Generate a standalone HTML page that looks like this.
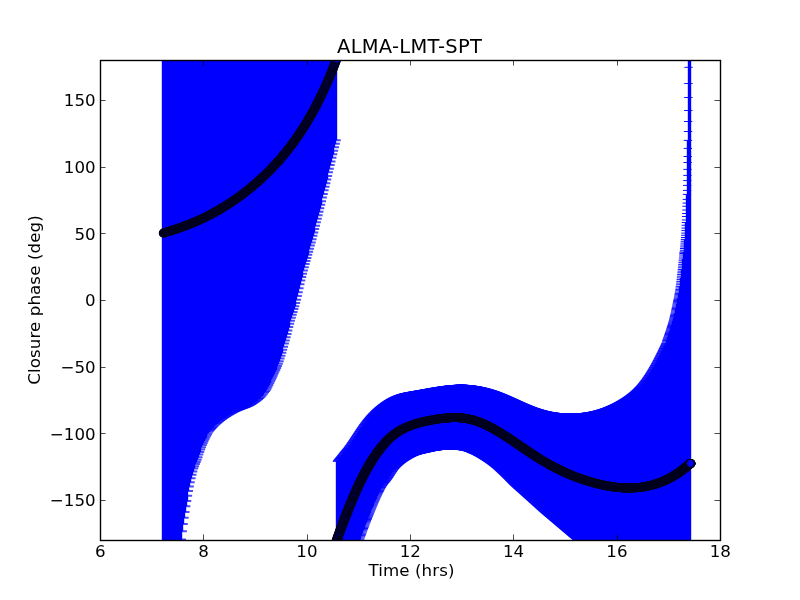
<!DOCTYPE html>
<html><head><meta charset="utf-8"><title>ALMA-LMT-SPT</title>
<style>html,body{margin:0;padding:0;background:#fff}svg{display:block}text{font-family:"DejaVu Sans","Liberation Sans",sans-serif;fill:#000}</style>
</head><body>
<svg width="800" height="600" viewBox="0 0 800 600">
<rect width="800" height="600" fill="#fff"/>
<defs><clipPath id="ax"><rect x="100" y="60" width="620" height="480"/></clipPath></defs>
<g clip-path="url(#ax)">
<path d="M162.5 55V545M163.5 55V545M164.5 55V545M165.5 55V545M166.5 55V545M167.5 55V545M168.5 55V545M168.5 55V545M169.5 55V545M170.5 55V545M171.5 55V545M172.5 55V545M173.5 55V545M174.5 55V545M174.5 55V545M175.5 55V545M176.5 55V545M177.5 55V545M178.5 55V545M179.5 55V545M180.5 55V545M181.5 55V545M181.5 55V539.41M182.5 55V531.23M183.5 55V524.11M184.5 55V517.76M185.5 55V511.89M186.5 55V506.26M187.5 55V500.91M187.5 55V495.85M188.5 55V491.07M189.5 55V486.56M190.5 55V482.33M191.5 55V478.37M192.5 55V474.68M193.5 55V471.39M194.5 55V468.6M194.5 55V466.24M195.5 55V464.1M196.5 55V462.02M197.5 55V459.8M198.5 55V457.29M199.5 55V454.58M200.5 55V451.99M200.5 55V449.62M201.5 55V447.31M202.5 55V445.09M203.5 55V442.98M204.5 55V441.02M205.5 55V439.2M206.5 55V437.47M206.5 55V435.83M207.5 55V434.31M208.5 55V432.93M209.5 55V431.73M210.5 55V430.62M211.5 55V429.56M212.5 55V428.55M213.5 55V427.59M213.5 55V426.67M214.5 55V425.8M215.5 55V424.96M216.5 55V424.16M217.5 55V423.38M218.5 55V422.64M219.5 55V421.92M219.5 55V421.23M220.5 55V420.55M221.5 55V419.89M222.5 55V419.25M223.5 55V418.62M224.5 55V418.01M225.5 55V417.42M225.5 55V416.85M226.5 55V416.29M227.5 55V415.75M228.5 55V415.22M229.5 55V414.7M230.5 55V414.2M231.5 55V413.71M232.5 55V413.23M232.5 55V412.77M233.5 55V412.31M234.5 55V411.87M235.5 55V411.44M236.5 55V411.03M237.5 55V410.64M238.5 55V410.27M238.5 55V409.92M239.5 55V409.59M240.5 55V409.26M241.5 55V408.94M242.5 55V408.63M243.5 55V408.31M244.5 55V407.99M244.5 55V407.66M245.5 55V407.32M246.5 55V406.97M247.5 55V406.6M248.5 55V406.2M249.5 55V405.78M250.5 55V405.33M251.5 55V404.85M251.5 55V404.34M252.5 55V403.79M253.5 55V403.22M254.5 55V402.63M255.5 55V402.01M256.5 55V401.37M257.5 55V400.71M257.5 55V400.03M258.5 55V399.31M259.5 55V398.55M260.5 55V397.73M261.5 55V396.85M262.5 55V395.91M263.5 55V394.91M263.5 55V393.83M264.5 55V392.66M265.5 55V391.4M266.5 55V389.98M267.5 55V388.41M268.5 55V386.71M269.5 55V384.93M270.5 55V383.12M270.5 55V381.31M271.5 55V379.5M272.5 55V377.64M273.5 55V375.74M274.5 55V373.81M275.5 55V371.86M276.5 55V369.92M276.5 55V368.04M277.5 55V366.09M278.5 55V363.85M279.5 55V361.34M280.5 55V358.61M281.5 55V355.73M282.5 55V352.74M282.5 55V349.7M283.5 55V346.66M284.5 55V343.62M285.5 55V340.48M286.5 55V337.26M287.5 55V333.98M288.5 55V330.56M289.5 55V327.1M289.5 55V323.78M290.5 55V320.67M291.5 55V317.71M292.5 55V314.82M293.5 55V311.97M294.5 55V309.09M295.5 55V306.13M295.5 55V303.03M296.5 55V299.72M297.5 55V296.09M298.5 55V292.19M299.5 55V288.17M300.5 55V284.21M301.5 55V280.45M302.5 55V276.99M302.5 55V273.68M303.5 55V270.44M304.5 55V267.23M305.5 55V264.09M306.5 55V260.99M307.5 55V257.92M308.5 55V254.87M308.5 55V251.81M309.5 55V248.72M310.5 55V245.6M311.5 55V242.41M312.5 55V239.16M313.5 55V235.85M314.5 55V232.5M314.5 55V229.12M315.5 55V225.71M316.5 55V222.27M317.5 55V218.8M318.5 55V215.31M319.5 55V211.79M320.5 55V208.26M321.5 55V204.7M321.5 55V201.14M322.5 55V197.55M323.5 55V193.96M324.5 55V190.35M325.5 55V186.74M326.5 55V183.13M327.5 55V179.51M327.5 55V175.89M328.5 55V172.27M329.5 55V168.66M330.5 55V165.05M331.5 55V161.45M332.5 55V157.86M333.5 55V154.29M333.5 55V150.73M334.5 55V147.18M335.5 55V143.66M336.5 55V140.15M336.5 461.28V545M337.5 460.73V545M337.5 460.18V545M338.5 459.63V545M338.5 459.09V545M339.5 458.56V545M339.5 458.02V545M339.5 457.49V545M340.5 456.96V545M340.5 456.43V545M341.5 455.9V545M341.5 455.37V545M342.5 454.84V545M342.5 454.3V545M342.5 453.76V545M343.5 453.07V545M343.5 452.6V545M344.5 452.13V545M344.5 451.64V545M345.5 451.14V545M345.5 450.62V545M345.5 450.1V545M346.5 449.57V545M346.5 449.02V545M347.5 448.47V545M347.5 447.9V545M348.5 447.33V545M348.5 446.75V545M348.5 446.17V545M349.5 445.57V545M349.5 444.97V545M350.5 444.36V545M350.5 443.74V545M351.5 443.12V545M351.5 442.5V545M351.5 441.86V545M352.5 441.23V545M352.5 440.59V545M353.5 439.95V545M353.5 439.3V545M354.5 438.65V545M354.5 438V545M354.5 437.35V545M355.5 436.69V545M355.5 436.04V545M356.5 435.38V545M356.5 434.72V545M357.5 434.07V545M357.5 433.41V545M357.5 432.76V545M358.5 432.11V544.2M358.5 431.46V542.93M359.5 430.81V541.67M359.5 430.16V540.43M360.5 429.52V539.21M360.5 428.88V537.99M360.5 428.25V536.78M361.5 427.62V535.58M361.5 427V534.38M362.5 426.38V533.19M362.5 425.76V532M363.5 425.16V530.83M363.5 424.56V529.66M364.5 423.97V528.49M364.5 423.38V527.34M364.5 422.8V526.19M365.5 422.24V525.06M365.5 421.67V523.93M366.5 421.12V522.81M366.5 420.57V521.7M367.5 420.03V520.6M367.5 419.5V519.51M367.5 418.98V518.44M368.5 418.46V517.37M368.5 417.95V516.31M369.5 417.44V515.27M369.5 416.94V514.23M370.5 416.45V513.19M370.5 415.97V512.14M370.5 415.49V511.1M371.5 415.02V510.05M371.5 414.55V509.01M372.5 414.1V507.96M372.5 413.64V506.92M373.5 413.2V505.89M373.5 412.76V504.86M373.5 412.32V503.83M374.5 411.89V502.81M374.5 411.47V501.8M375.5 411.05V500.8M375.5 410.64V499.81M376.5 410.23V498.83M376.5 409.83V497.86M376.5 409.44V496.9M377.5 409.05V495.96M377.5 408.66V495.03M378.5 408.28V494.12M378.5 407.91V493.23M379.5 407.54V492.35M379.5 407.17V491.49M379.5 406.81V490.65M380.5 406.45V489.83M380.5 406.1V489.04M381.5 405.75V488.26M381.5 405.41V487.51M382.5 405.07V486.78M382.5 404.74V486.08M382.5 404.41V485.42M383.5 404.09V484.78M383.5 403.77V484.18M384.5 403.46V483.6M384.5 403.15V483.05M385.5 402.84V482.51M385.5 402.54V481.97M385.5 402.25V481.45M386.5 401.96V480.92M386.5 401.67V480.38M387.5 401.39V479.83M387.5 401.11V479.26M388.5 400.84V478.67M388.5 400.57V478.05M388.5 400.31V477.42M389.5 400.05V476.77M389.5 399.8V476.11M390.5 399.55V475.44M390.5 399.3V474.77M391.5 399.06V474.09M391.5 398.83V473.41M391.5 398.6V472.74M392.5 398.37V472.08M392.5 398.15V471.43M393.5 397.93V470.8M393.5 397.72V470.19M394.5 397.51V469.59M394.5 397.3V469.03M394.5 397.1V468.49M395.5 396.91V467.99M395.5 396.72V467.52M396.5 396.53V467.08M396.5 396.35V466.65M397.5 396.17V466.22M397.5 396V465.81M397.5 395.83V465.41M398.5 395.67V465.02M398.5 395.51V464.64M399.5 395.36V464.27M399.5 395.21V463.9M400.5 395.06V463.54M400.5 394.92V463.2M400.5 394.78V462.86M401.5 394.65V462.53M401.5 394.52V462.2M402.5 394.39V461.88M402.5 394.27V461.57M403.5 394.15V461.27M403.5 394.03V460.97M404.5 393.92V460.68M404.5 393.81V460.4M404.5 393.7V460.12M405.5 393.59V459.85M405.5 393.49V459.58M406.5 393.39V459.31M406.5 393.3V459.05M407.5 393.2V458.79M407.5 393.11V458.54M407.5 393.02V458.28M408.5 392.93V458.03M408.5 392.85V457.79M409.5 392.76V457.55M409.5 392.68V457.31M410.5 392.6V457.08M410.5 392.52V456.85M410.5 392.44V456.63M411.5 392.36V456.41M411.5 392.28V456.2M412.5 392.21V455.99M412.5 392.13V455.79M413.5 392.06V455.6M413.5 391.99V455.41M413.5 391.91V455.23M414.5 391.84V455.06M414.5 391.77V454.89M415.5 391.69V454.73M415.5 391.62V454.58M416.5 391.55V454.43M416.5 391.47V454.3M416.5 391.4V454.16M417.5 391.32V454.03M417.5 391.25V453.91M418.5 391.17V453.79M418.5 391.1V453.67M419.5 391.02V453.55M419.5 390.95V453.44M419.5 390.87V453.34M420.5 390.79V453.23M420.5 390.72V453.13M421.5 390.64V453.03M421.5 390.56V452.93M422.5 390.49V452.83M422.5 390.41V452.73M422.5 390.33V452.64M423.5 390.25V452.54M423.5 390.18V452.45M424.5 390.1V452.36M424.5 390.02V452.26M425.5 389.94V452.17M425.5 389.87V452.07M425.5 389.79V451.98M426.5 389.71V451.88M426.5 389.63V451.79M427.5 389.56V451.69M427.5 389.48V451.59M428.5 389.4V451.5M428.5 389.32V451.4M428.5 389.25V451.3M429.5 389.17V451.21M429.5 389.09V451.11M430.5 389.02V451.02M430.5 388.94V450.93M431.5 388.87V450.84M431.5 388.79V450.75M431.5 388.71V450.66M432.5 388.64V450.57M432.5 388.56V450.49M433.5 388.49V450.41M433.5 388.42V450.34M434.5 388.34V450.26M434.5 388.27V450.19M434.5 388.2V450.12M435.5 388.12V450.06M435.5 388.05V450M436.5 387.98V449.94M436.5 387.91V449.88M437.5 387.84V449.83M437.5 387.77V449.77M437.5 387.7V449.71M438.5 387.63V449.65M438.5 387.56V449.59M439.5 387.49V449.53M439.5 387.42V449.47M440.5 387.36V449.42M440.5 387.29V449.37M440.5 387.22V449.32M441.5 387.16V449.27M441.5 387.09V449.22M442.5 387.03V449.18M442.5 386.97V449.14M443.5 386.91V449.11M443.5 386.84V449.08M444.5 386.78V449.05M444.5 386.72V449.03M444.5 386.66V449.02M445.5 386.61V449M445.5 386.55V449M446.5 386.49V449M446.5 386.44V449M447.5 386.38V449M447.5 386.33V449M447.5 386.27V449M448.5 386.22V449M448.5 386.17V449M449.5 386.12V449M449.5 386.07V449M450.5 386.02V449M450.5 385.98V449M450.5 385.93V449M451.5 385.89V449M451.5 385.84V449M452.5 385.8V449M452.5 385.76V449M453.5 385.72V449M453.5 385.68V449M453.5 385.64V449M454.5 385.6V449M454.5 385.57V449.01M455.5 385.53V449.02M455.5 385.5V449.03M456.5 385.47V449.05M456.5 385.44V449.07M456.5 385.41V449.1M457.5 385.38V449.13M457.5 385.35V449.17M458.5 385.33V449.21M458.5 385.3V449.25M459.5 385.28V449.3M459.5 385.26V449.34M459.5 385.24V449.4M460.5 385.22V449.45M460.5 385.2V449.51M461.5 385.2V449.56M461.5 385.22V449.62M462.5 385.24V449.69M462.5 385.26V449.75M462.5 385.28V449.81M463.5 385.31V449.88M463.5 385.33V449.95M464.5 385.36V450.01M464.5 385.39V450.09M465.5 385.42V450.17M465.5 385.45V450.27M465.5 385.49V450.37M466.5 385.52V450.49M466.5 385.56V450.61M467.5 385.6V450.74M467.5 385.64V450.88M468.5 385.69V451.03M468.5 385.73V451.18M468.5 385.78V451.34M469.5 385.82V451.5M469.5 385.87V451.67M470.5 385.93V451.84M470.5 385.98V452.02M471.5 386.03V452.2M471.5 386.09V452.38M471.5 386.15V452.56M472.5 386.21V452.75M472.5 386.27V452.93M473.5 386.33V453.12M473.5 386.4V453.3M474.5 386.47V453.49M474.5 386.53V453.67M474.5 386.6V453.87M475.5 386.68V454.07M475.5 386.75V454.27M476.5 386.83V454.48M476.5 386.9V454.7M477.5 386.98V454.92M477.5 387.06V455.15M477.5 387.15V455.38M478.5 387.23V455.61M478.5 387.31V455.85M479.5 387.4V456.09M479.5 387.49V456.34M480.5 387.58V456.58M480.5 387.68V456.84M481.5 387.77V457.09M481.5 387.87V457.35M481.5 387.96V457.6M482.5 388.06V457.86M482.5 388.17V458.13M483.5 388.27V458.39M483.5 388.37V458.65M484.5 388.48V458.92M484.5 388.59V459.18M484.5 388.7V459.45M485.5 388.81V459.72M485.5 388.93V460M486.5 389.04V460.28M486.5 389.16V460.56M487.5 389.28V460.84M487.5 389.4V461.13M487.5 389.52V461.42M488.5 389.65V461.71M488.5 389.77V462.01M489.5 389.9V462.31M489.5 390.03V462.61M490.5 390.16V462.91M490.5 390.29V463.22M490.5 390.43V463.53M491.5 390.56V463.85M491.5 390.7V464.17M492.5 390.84V464.49M492.5 390.99V464.82M493.5 391.13V465.14M493.5 391.28V465.48M493.5 391.42V465.81M494.5 391.57V466.15M494.5 391.72V466.49M495.5 391.88V466.85M495.5 392.03V467.2M496.5 392.19V467.56M496.5 392.34V467.93M496.5 392.5V468.3M497.5 392.67V468.68M497.5 392.83V469.06M498.5 392.99V469.45M498.5 393.16V469.84M499.5 393.33V470.23M499.5 393.5V470.62M499.5 393.67V471.02M500.5 393.84V471.42M500.5 394.01V471.82M501.5 394.19V472.23M501.5 394.37V472.63M502.5 394.54V473.04M502.5 394.72V473.45M502.5 394.9V473.86M503.5 395.08V474.26M503.5 395.26V474.67M504.5 395.45V475.08M504.5 395.63V475.49M505.5 395.82V475.91M505.5 396V476.33M505.5 396.19V476.75M506.5 396.38V477.18M506.5 396.56V477.62M507.5 396.75V478.05M507.5 396.94V478.49M508.5 397.13V478.93M508.5 397.32V479.37M508.5 397.52V479.81M509.5 397.71V480.25M509.5 397.9V480.69M510.5 398.09V481.13M510.5 398.29V481.57M511.5 398.48V482.01M511.5 398.68V482.44M511.5 398.87V482.88M512.5 399.06V483.31M512.5 399.26V483.73M513.5 399.45V484.15M513.5 399.65V484.57M514.5 399.85V484.98M514.5 400.04V485.38M514.5 400.24V485.79M515.5 400.43V486.19M515.5 400.63V486.58M516.5 400.82V486.98M516.5 401.02V487.37M517.5 401.21V487.76M517.5 401.41V488.15M517.5 401.6V488.53M518.5 401.79V488.92M518.5 401.99V489.3M519.5 402.18V489.68M519.5 402.37V490.06M520.5 402.56V490.45M520.5 402.76V490.83M521.5 402.95V491.21M521.5 403.14V491.59M521.5 403.33V491.97M522.5 403.52V492.35M522.5 403.7V492.73M523.5 403.89V493.11M523.5 404.08V493.5M524.5 404.26V493.88M524.5 404.45V494.27M524.5 404.63V494.66M525.5 404.82V495.05M525.5 405V495.43M526.5 405.18V495.82M526.5 405.36V496.21M527.5 405.54V496.59M527.5 405.71V496.98M527.5 405.89V497.37M528.5 406.06V497.76M528.5 406.24V498.14M529.5 406.41V498.53M529.5 406.58V498.92M530.5 406.75V499.3M530.5 406.92V499.69M530.5 407.08V500.08M531.5 407.25V500.47M531.5 407.41V500.85M532.5 407.57V501.24M532.5 407.73V501.63M533.5 407.89V502.01M533.5 408.05V502.4M533.5 408.2V502.79M534.5 408.35V503.18M534.5 408.51V503.56M535.5 408.65V503.95M535.5 408.8V504.34M536.5 408.95V504.73M536.5 409.09V505.12M536.5 409.23V505.51M537.5 409.37V505.9M537.5 409.5V506.29M538.5 409.64V506.69M538.5 409.77V507.08M539.5 409.9V507.47M539.5 410.03V507.86M539.5 410.16V508.24M540.5 410.28V508.63M540.5 410.4V509.02M541.5 410.52V509.41M541.5 410.64V509.79M542.5 410.76V510.18M542.5 410.87V510.56M542.5 410.98V510.94M543.5 411.09V511.32M543.5 411.2V511.7M544.5 411.31V512.08M544.5 411.41V512.45M545.5 411.51V512.83M545.5 411.61V513.2M545.5 411.71V513.57M546.5 411.81V513.94M546.5 411.9V514.3M547.5 411.99V514.67M547.5 412.08V515.04M548.5 412.17V515.4M548.5 412.25V515.77M548.5 412.34V516.13M549.5 412.42V516.49M549.5 412.5V516.85M550.5 412.58V517.22M550.5 412.65V517.58M551.5 412.72V517.94M551.5 412.8V518.3M551.5 412.86V518.67M552.5 412.93V519.03M552.5 413V519.39M553.5 413.06V519.76M553.5 413.12V520.12M554.5 413.18V520.49M554.5 413.24V520.85M554.5 413.29V521.22M555.5 413.34V521.58M555.5 413.39V521.95M556.5 413.44V522.31M556.5 413.49V522.68M557.5 413.53V523.05M557.5 413.58V523.41M558.5 413.62V523.78M558.5 413.66V524.14M558.5 413.69V524.51M559.5 413.73V524.88M559.5 413.76V525.24M560.5 413.79V525.61M560.5 413.82V525.97M561.5 413.84V526.34M561.5 413.87V526.7M561.5 413.89V527.07M562.5 413.91V527.43M562.5 413.93V527.8M563.5 413.94V528.16M563.5 413.96V528.53M564.5 413.97V528.9M564.5 413.98V529.26M564.5 413.99V529.62M565.5 413.99V529.99M565.5 414V530.35M566.5 414V530.72M566.5 414V531.08M567.5 414V531.45M567.5 414V531.81M567.5 414V532.18M568.5 414V532.54M568.5 414V532.91M569.5 414V533.27M569.5 414V533.64M570.5 414V534M570.5 414V534.37M570.5 414V534.73M571.5 414V535.1M571.5 414V535.46M572.5 414V535.83M572.5 414V536.19M573.5 414V536.55M573.5 414V536.92M573.5 414V537.28M574.5 414V537.64M574.5 414V538.01M575.5 414V538.37M575.5 413.99V538.73M576.5 413.99V539.09M576.5 413.98V539.45M576.5 413.97V539.82M577.5 413.96V540.18M577.5 413.94V540.54M578.5 413.93V540.9M578.5 413.91V541.26M579.5 413.89V541.62M579.5 413.87V541.98M579.5 413.84V542.34M580.5 413.82V542.7M580.5 413.79V543.06M581.5 413.76V543.42M581.5 413.72V543.78M582.5 413.69V544.14M582.5 413.65V544.5M582.5 413.61V544.85M583.5 413.57V545M583.5 413.53V545M584.5 413.49V545M584.5 413.44V545M585.5 413.39V545M585.5 413.34V545M585.5 413.29V545M586.5 413.23V545M586.5 413.17V545M587.5 413.11V545M587.5 413.05V545M588.5 412.99V545M588.5 412.92V545M588.5 412.86V545M589.5 412.79V545M589.5 412.71V545M590.5 412.64V545M590.5 412.56V545M591.5 412.48V545M591.5 412.4V545M591.5 412.32V545M592.5 412.24V545M592.5 412.15V545M593.5 412.06V545M593.5 411.97V545M594.5 411.87V545M594.5 411.78V545M594.5 411.68V545M595.5 411.58V545M595.5 411.48V545M596.5 411.37V545M596.5 411.26V545M597.5 411.16V545M597.5 411.04V545M598.5 410.93V545M598.5 410.81V545M598.5 410.69V545M599.5 410.57V545M599.5 410.45V545M600.5 410.32V545M600.5 410.2V545M601.5 410.07V545M601.5 409.93V545M601.5 409.8V545M602.5 409.66V545M602.5 409.52V545M603.5 409.38V545M603.5 409.24V545M604.5 409.09V545M604.5 408.94V545M604.5 408.79V545M605.5 408.64V545M605.5 408.48V545M606.5 408.32V545M606.5 408.16V545M607.5 408V545M607.5 407.83V545M607.5 407.66V545M608.5 407.49V545M608.5 407.32V545M609.5 407.14V545M609.5 406.96V545M610.5 406.78V545M610.5 406.6V545M610.5 406.41V545M611.5 406.22V545M611.5 406.03V545M612.5 405.84V545M612.5 405.64V545M613.5 405.45V545M613.5 405.25V545M613.5 405.04V545M614.5 404.84V545M614.5 404.63V545M615.5 404.42V545M615.5 404.2V545M616.5 403.99V545M616.5 403.77V545M616.5 403.55V545M617.5 403.32V545M617.5 403.09V545M618.5 402.87V545M618.5 402.63V545M619.5 402.4V545M619.5 402.16V545M619.5 401.92V545M620.5 401.68V545M620.5 401.43V545M621.5 401.19V545M621.5 400.93V545M622.5 400.68V545M622.5 400.43V545M622.5 400.17V545M623.5 399.9V545M623.5 399.64V545M624.5 399.37V545M624.5 399.1V545M625.5 398.83V545M625.5 398.56V545M625.5 398.28V545M626.5 397.99V545M626.5 397.71V545M627.5 397.42V545M627.5 397.13V545M628.5 396.83V545M628.5 396.53V545M628.5 396.22V545M629.5 395.91V545M629.5 395.6V545M630.5 395.28V545M630.5 394.95V545M631.5 394.62V545M631.5 394.29V545M631.5 393.95V545M632.5 393.6V545M632.5 393.25V545M633.5 392.89V545M633.5 392.53V545M634.5 392.16V545M634.5 391.78V545M635.5 391.4V545M635.5 391.01V545M635.5 390.62V545M636.5 390.21V545M636.5 389.8V545M637.5 389.39V545M637.5 388.96V545M638.5 388.53V545M638.5 388.09V545M638.5 387.64V545M639.5 387.19V545M639.5 386.72V545M640.5 386.25V545M640.5 385.77V545M641.5 385.28V545M641.5 384.78V545M641.5 384.28V545M642.5 383.76V545M642.5 383.24V545M643.5 382.7V545M643.5 382.16V545M644.5 381.6V545M644.5 381.04V545M644.5 380.47V545M645.5 379.88V545M645.5 379.29V545M646.5 378.69V545M646.5 378.08V545M647.5 377.46V545M647.5 376.83V545M647.5 376.2V545M648.5 375.56V545M648.5 374.92V545M649.5 374.27V545M649.5 373.62V545M649.5 372.96V545M650.5 372.3V545M650.5 371.64V545M651.5 370.97V545M651.5 370.3V545M652.5 369.62V545M652.5 368.94V545M652.5 368.26V545M653.5 367.57V545M653.5 366.88V545M654.5 366.19V545M654.5 365.49V545M654.5 364.8V545M655.5 364.1V545M655.5 363.4V545M655.5 362.7V545M656.5 361.99V545M656.5 361.29V545M657.5 360.58V545M657.5 359.88V545M657.5 359.17V545M658.5 358.46V545M658.5 357.75V545M658.5 357.04V545M659.5 356.33V545M659.5 355.62V545M660.5 354.91V545M660.5 354.2V545M660.5 353.49V545M661.5 352.78V545M661.5 352.07V545M661.5 351.36V545M662.5 350.65V545M662.5 349.95V545M662.5 349.24V545M663.5 348.53V545M663.5 347.83V545M663.5 347.13V545M664.5 346.43V545M664.5 345.73V545M664.5 345.03V545M665.5 344.33V545M665.5 343.64V545M665.5 342.95V545M666.5 341.77V545M666.5 340.61V545M666.5 339.72V545M667.5 338.84V545M667.5 337.95V545M667.5 337.06V545M668.5 336.17V545M668.5 335.29V545M668.5 334.42V545M668.5 333.55V545M669.5 332.68V545M669.5 331.81V545M669.5 330.94V545M670.5 330.06V545M670.5 329.18V545M670.5 328.29V545M670.5 327.4V545M671.5 326.49V545M671.5 325.58V545M671.5 324.65V545M672.5 323.71V545M672.5 322.75V545M672.5 321.79V545M672.5 320.8V545M673.5 319.8V545M673.5 318.77V545M673.5 317.7V545M674.5 316.6V545M674.5 315.48V545M674.5 314.34V545M674.5 313.18V545M675.5 312.01V545M675.5 310.84V545M675.5 309.66V545M675.5 308.48V545M676.5 307.3V545M676.5 306.13V545M676.5 304.97V545M676.5 303.83V545M677.5 302.71V545M677.5 301.59V545M677.5 300.48V545M677.5 299.35V545M677.5 298.22V545M678.5 297.06V545M678.5 295.88V545M678.5 294.67V545M678.5 293.42V545M679.5 292.14V545M679.5 290.81V545M679.5 289.43V545M679.5 287.96V545M679.5 286.39V545M680.5 284.76V545M680.5 283.07V545M680.5 281.35V545M680.5 279.62V545M680.5 277.88V545M681.5 276.16V545M681.5 274.46V545M681.5 272.79V545M681.5 271.13V545M681.5 269.46V545M682.5 267.79V545M682.5 266.1V545M682.5 264.38V545M682.5 262.62V545M682.5 260.81V545M682.5 258.95V545M683.5 257.04V545M683.5 255.05V545M683.5 252.95V545M683.5 253.5V545M683.5 251.9V545M684.5 250.25V545M684.5 248.5V545M684.5 246.9V545M684.5 245V545M684.5 243.1V545M684.5 241.25V545M684.5 239.4V545M685.5 237.5V545M685.5 235.25V545M685.5 233.1V545M685.5 230.6V545M685.5 228.1V545M685.5 225.25V545M685.5 222.5V545M686.5 220V545M686.5 216.5V545M686.5 213.5V545M686.5 210V545M686.5 206.25V545M686.5 203.1V545M686.5 199.4V545M686.5 194.4V545M687.5 190.4V545M687.5 185.4V545M687.5 180.6V545M687.5 175.4V545M687.5 169.4V545M687.5 162.5V545M687.5 156.5V545M687.5 148.4V545M687.5 140.4V545M688.5 131.5V545M688.5 121.5V545M688.5 110.5V545M688.5 97.5V545M688.5 83.5V545M688.5 67.3V545M688.5 55V545M688.5 55V545M688.5 55V545M688.5 55V545M688.5 55V545M689.5 55V545M689.5 55V545M689.5 55V545M689.5 55V545M689.5 55V545M689.5 55V545M689.5 55V545M689.5 55V545M689.5 55V545M689.5 55V545M689.5 55V545M689.5 55V545M689.5 55V545M689.5 55V545M689.5 55V545M689.5 55V545M689.5 55V545M689.5 55V545M689.5 55V545M690.5 55V545M690.5 55V545M690.5 55V545M690.5 55V545M690.5 55V545M690.5 55V545M690.5 55V545M690.5 55V545M690.5 55V545M690.5 55V545M690.5 55V545M690.5 55V545M690.5 55V545M690.5 55V545M690.5 55V545M690.5 55V545M690.5 55V545" stroke="#0000ff" stroke-width="1.39" fill="none"/>
<g fill="#0000ff" stroke="#00001c" stroke-width="1.4"><ellipse cx="163.6" cy="233.15" rx="4.1" ry="3.7"/><ellipse cx="163.6" cy="233.02" rx="4.1" ry="3.7"/><ellipse cx="163.76" cy="232.89" rx="4.1" ry="3.7"/><ellipse cx="164.2" cy="232.77" rx="4.1" ry="3.7"/><ellipse cx="164.63" cy="232.64" rx="4.1" ry="3.7"/><ellipse cx="165.06" cy="232.51" rx="4.1" ry="3.7"/><ellipse cx="165.49" cy="232.38" rx="4.1" ry="3.7"/><ellipse cx="165.92" cy="232.25" rx="4.1" ry="3.7"/><ellipse cx="166.36" cy="232.12" rx="4.1" ry="3.7"/><ellipse cx="166.79" cy="231.99" rx="4.1" ry="3.7"/><ellipse cx="167.22" cy="231.86" rx="4.1" ry="3.7"/><ellipse cx="167.65" cy="231.73" rx="4.1" ry="3.7"/><ellipse cx="168.08" cy="231.6" rx="4.1" ry="3.7"/><ellipse cx="168.52" cy="231.46" rx="4.1" ry="3.7"/><ellipse cx="168.95" cy="231.33" rx="4.1" ry="3.7"/><ellipse cx="169.38" cy="231.2" rx="4.1" ry="3.7"/><ellipse cx="169.81" cy="231.06" rx="4.1" ry="3.7"/><ellipse cx="170.24" cy="230.93" rx="4.1" ry="3.7"/><ellipse cx="170.68" cy="230.79" rx="4.1" ry="3.7"/><ellipse cx="171.11" cy="230.66" rx="4.1" ry="3.7"/><ellipse cx="171.54" cy="230.52" rx="4.1" ry="3.7"/><ellipse cx="171.97" cy="230.38" rx="4.1" ry="3.7"/><ellipse cx="172.4" cy="230.24" rx="4.1" ry="3.7"/><ellipse cx="172.84" cy="230.11" rx="4.1" ry="3.7"/><ellipse cx="173.27" cy="229.97" rx="4.1" ry="3.7"/><ellipse cx="173.7" cy="229.83" rx="4.1" ry="3.7"/><ellipse cx="174.13" cy="229.69" rx="4.1" ry="3.7"/><ellipse cx="174.56" cy="229.54" rx="4.1" ry="3.7"/><ellipse cx="175" cy="229.4" rx="4.1" ry="3.7"/><ellipse cx="175.43" cy="229.26" rx="4.1" ry="3.7"/><ellipse cx="175.86" cy="229.12" rx="4.1" ry="3.7"/><ellipse cx="176.29" cy="228.97" rx="4.1" ry="3.7"/><ellipse cx="176.72" cy="228.83" rx="4.1" ry="3.7"/><ellipse cx="177.16" cy="228.68" rx="4.1" ry="3.7"/><ellipse cx="177.59" cy="228.53" rx="4.1" ry="3.7"/><ellipse cx="178.02" cy="228.39" rx="4.1" ry="3.7"/><ellipse cx="178.45" cy="228.24" rx="4.1" ry="3.7"/><ellipse cx="178.88" cy="228.09" rx="4.1" ry="3.7"/><ellipse cx="179.32" cy="227.94" rx="4.1" ry="3.7"/><ellipse cx="179.75" cy="227.79" rx="4.1" ry="3.7"/><ellipse cx="180.18" cy="227.64" rx="4.1" ry="3.7"/><ellipse cx="180.61" cy="227.48" rx="4.1" ry="3.7"/><ellipse cx="181.04" cy="227.33" rx="4.1" ry="3.7"/><ellipse cx="181.48" cy="227.18" rx="4.1" ry="3.7"/><ellipse cx="181.91" cy="227.02" rx="4.1" ry="3.7"/><ellipse cx="182.34" cy="226.87" rx="4.1" ry="3.7"/><ellipse cx="182.77" cy="226.71" rx="4.1" ry="3.7"/><ellipse cx="183.2" cy="226.55" rx="4.1" ry="3.7"/><ellipse cx="183.64" cy="226.39" rx="4.1" ry="3.7"/><ellipse cx="184.07" cy="226.23" rx="4.1" ry="3.7"/><ellipse cx="184.5" cy="226.07" rx="4.1" ry="3.7"/><ellipse cx="184.93" cy="225.91" rx="4.1" ry="3.7"/><ellipse cx="185.36" cy="225.75" rx="4.1" ry="3.7"/><ellipse cx="185.8" cy="225.59" rx="4.1" ry="3.7"/><ellipse cx="186.23" cy="225.42" rx="4.1" ry="3.7"/><ellipse cx="186.66" cy="225.26" rx="4.1" ry="3.7"/><ellipse cx="187.09" cy="225.09" rx="4.1" ry="3.7"/><ellipse cx="187.52" cy="224.92" rx="4.1" ry="3.7"/><ellipse cx="187.96" cy="224.76" rx="4.1" ry="3.7"/><ellipse cx="188.39" cy="224.59" rx="4.1" ry="3.7"/><ellipse cx="188.82" cy="224.42" rx="4.1" ry="3.7"/><ellipse cx="189.25" cy="224.25" rx="4.1" ry="3.7"/><ellipse cx="189.68" cy="224.07" rx="4.1" ry="3.7"/><ellipse cx="190.12" cy="223.9" rx="4.1" ry="3.7"/><ellipse cx="190.55" cy="223.73" rx="4.1" ry="3.7"/><ellipse cx="190.98" cy="223.55" rx="4.1" ry="3.7"/><ellipse cx="191.41" cy="223.38" rx="4.1" ry="3.7"/><ellipse cx="191.84" cy="223.2" rx="4.1" ry="3.7"/><ellipse cx="192.28" cy="223.02" rx="4.1" ry="3.7"/><ellipse cx="192.71" cy="222.84" rx="4.1" ry="3.7"/><ellipse cx="193.14" cy="222.66" rx="4.1" ry="3.7"/><ellipse cx="193.57" cy="222.48" rx="4.1" ry="3.7"/><ellipse cx="194" cy="222.3" rx="4.1" ry="3.7"/><ellipse cx="194.44" cy="222.11" rx="4.1" ry="3.7"/><ellipse cx="194.87" cy="221.93" rx="4.1" ry="3.7"/><ellipse cx="195.3" cy="221.74" rx="4.1" ry="3.7"/><ellipse cx="195.73" cy="221.56" rx="4.1" ry="3.7"/><ellipse cx="196.16" cy="221.37" rx="4.1" ry="3.7"/><ellipse cx="196.6" cy="221.18" rx="4.1" ry="3.7"/><ellipse cx="197.03" cy="220.99" rx="4.1" ry="3.7"/><ellipse cx="197.46" cy="220.8" rx="4.1" ry="3.7"/><ellipse cx="197.89" cy="220.61" rx="4.1" ry="3.7"/><ellipse cx="198.32" cy="220.42" rx="4.1" ry="3.7"/><ellipse cx="198.76" cy="220.22" rx="4.1" ry="3.7"/><ellipse cx="199.19" cy="220.03" rx="4.1" ry="3.7"/><ellipse cx="199.62" cy="219.83" rx="4.1" ry="3.7"/><ellipse cx="200.05" cy="219.63" rx="4.1" ry="3.7"/><ellipse cx="200.48" cy="219.43" rx="4.1" ry="3.7"/><ellipse cx="200.92" cy="219.23" rx="4.1" ry="3.7"/><ellipse cx="201.35" cy="219.03" rx="4.1" ry="3.7"/><ellipse cx="201.78" cy="218.83" rx="4.1" ry="3.7"/><ellipse cx="202.21" cy="218.63" rx="4.1" ry="3.7"/><ellipse cx="202.64" cy="218.42" rx="4.1" ry="3.7"/><ellipse cx="203.08" cy="218.22" rx="4.1" ry="3.7"/><ellipse cx="203.51" cy="218.01" rx="4.1" ry="3.7"/><ellipse cx="203.94" cy="217.8" rx="4.1" ry="3.7"/><ellipse cx="204.37" cy="217.59" rx="4.1" ry="3.7"/><ellipse cx="204.8" cy="217.38" rx="4.1" ry="3.7"/><ellipse cx="205.24" cy="217.17" rx="4.1" ry="3.7"/><ellipse cx="205.67" cy="216.96" rx="4.1" ry="3.7"/><ellipse cx="206.1" cy="216.74" rx="4.1" ry="3.7"/><ellipse cx="206.53" cy="216.53" rx="4.1" ry="3.7"/><ellipse cx="206.96" cy="216.31" rx="4.1" ry="3.7"/><ellipse cx="207.4" cy="216.1" rx="4.1" ry="3.7"/><ellipse cx="207.83" cy="215.88" rx="4.1" ry="3.7"/><ellipse cx="208.26" cy="215.66" rx="4.1" ry="3.7"/><ellipse cx="208.69" cy="215.44" rx="4.1" ry="3.7"/><ellipse cx="209.12" cy="215.22" rx="4.1" ry="3.7"/><ellipse cx="209.56" cy="214.99" rx="4.1" ry="3.7"/><ellipse cx="209.99" cy="214.77" rx="4.1" ry="3.7"/><ellipse cx="210.42" cy="214.54" rx="4.1" ry="3.7"/><ellipse cx="210.85" cy="214.31" rx="4.1" ry="3.7"/><ellipse cx="211.28" cy="214.09" rx="4.1" ry="3.7"/><ellipse cx="211.72" cy="213.86" rx="4.1" ry="3.7"/><ellipse cx="212.15" cy="213.63" rx="4.1" ry="3.7"/><ellipse cx="212.58" cy="213.4" rx="4.1" ry="3.7"/><ellipse cx="213.01" cy="213.16" rx="4.1" ry="3.7"/><ellipse cx="213.44" cy="212.93" rx="4.1" ry="3.7"/><ellipse cx="213.88" cy="212.69" rx="4.1" ry="3.7"/><ellipse cx="214.31" cy="212.46" rx="4.1" ry="3.7"/><ellipse cx="214.74" cy="212.22" rx="4.1" ry="3.7"/><ellipse cx="215.17" cy="211.98" rx="4.1" ry="3.7"/><ellipse cx="215.6" cy="211.74" rx="4.1" ry="3.7"/><ellipse cx="216.04" cy="211.5" rx="4.1" ry="3.7"/><ellipse cx="216.47" cy="211.25" rx="4.1" ry="3.7"/><ellipse cx="216.9" cy="211.01" rx="4.1" ry="3.7"/><ellipse cx="217.33" cy="210.76" rx="4.1" ry="3.7"/><ellipse cx="217.76" cy="210.52" rx="4.1" ry="3.7"/><ellipse cx="218.2" cy="210.27" rx="4.1" ry="3.7"/><ellipse cx="218.63" cy="210.02" rx="4.1" ry="3.7"/><ellipse cx="219.06" cy="209.77" rx="4.1" ry="3.7"/><ellipse cx="219.49" cy="209.52" rx="4.1" ry="3.7"/><ellipse cx="219.92" cy="209.27" rx="4.1" ry="3.7"/><ellipse cx="220.36" cy="209.01" rx="4.1" ry="3.7"/><ellipse cx="220.79" cy="208.76" rx="4.1" ry="3.7"/><ellipse cx="221.22" cy="208.5" rx="4.1" ry="3.7"/><ellipse cx="221.65" cy="208.24" rx="4.1" ry="3.7"/><ellipse cx="222.08" cy="207.98" rx="4.1" ry="3.7"/><ellipse cx="222.52" cy="207.72" rx="4.1" ry="3.7"/><ellipse cx="222.95" cy="207.46" rx="4.1" ry="3.7"/><ellipse cx="223.38" cy="207.2" rx="4.1" ry="3.7"/><ellipse cx="223.81" cy="206.93" rx="4.1" ry="3.7"/><ellipse cx="224.24" cy="206.67" rx="4.1" ry="3.7"/><ellipse cx="224.68" cy="206.4" rx="4.1" ry="3.7"/><ellipse cx="225.11" cy="206.13" rx="4.1" ry="3.7"/><ellipse cx="225.54" cy="205.86" rx="4.1" ry="3.7"/><ellipse cx="225.97" cy="205.59" rx="4.1" ry="3.7"/><ellipse cx="226.4" cy="205.32" rx="4.1" ry="3.7"/><ellipse cx="226.84" cy="205.04" rx="4.1" ry="3.7"/><ellipse cx="227.27" cy="204.77" rx="4.1" ry="3.7"/><ellipse cx="227.7" cy="204.49" rx="4.1" ry="3.7"/><ellipse cx="228.13" cy="204.21" rx="4.1" ry="3.7"/><ellipse cx="228.56" cy="203.93" rx="4.1" ry="3.7"/><ellipse cx="229" cy="203.65" rx="4.1" ry="3.7"/><ellipse cx="229.43" cy="203.37" rx="4.1" ry="3.7"/><ellipse cx="229.86" cy="203.09" rx="4.1" ry="3.7"/><ellipse cx="230.29" cy="202.8" rx="4.1" ry="3.7"/><ellipse cx="230.72" cy="202.52" rx="4.1" ry="3.7"/><ellipse cx="231.16" cy="202.23" rx="4.1" ry="3.7"/><ellipse cx="231.59" cy="201.94" rx="4.1" ry="3.7"/><ellipse cx="232.02" cy="201.65" rx="4.1" ry="3.7"/><ellipse cx="232.45" cy="201.36" rx="4.1" ry="3.7"/><ellipse cx="232.88" cy="201.07" rx="4.1" ry="3.7"/><ellipse cx="233.32" cy="200.78" rx="4.1" ry="3.7"/><ellipse cx="233.75" cy="200.48" rx="4.1" ry="3.7"/><ellipse cx="234.18" cy="200.18" rx="4.1" ry="3.7"/><ellipse cx="234.61" cy="199.88" rx="4.1" ry="3.7"/><ellipse cx="235.04" cy="199.59" rx="4.1" ry="3.7"/><ellipse cx="235.48" cy="199.28" rx="4.1" ry="3.7"/><ellipse cx="235.91" cy="198.98" rx="4.1" ry="3.7"/><ellipse cx="236.34" cy="198.68" rx="4.1" ry="3.7"/><ellipse cx="236.77" cy="198.37" rx="4.1" ry="3.7"/><ellipse cx="237.2" cy="198.07" rx="4.1" ry="3.7"/><ellipse cx="237.64" cy="197.76" rx="4.1" ry="3.7"/><ellipse cx="238.07" cy="197.45" rx="4.1" ry="3.7"/><ellipse cx="238.5" cy="197.14" rx="4.1" ry="3.7"/><ellipse cx="238.93" cy="196.82" rx="4.1" ry="3.7"/><ellipse cx="239.36" cy="196.51" rx="4.1" ry="3.7"/><ellipse cx="239.8" cy="196.2" rx="4.1" ry="3.7"/><ellipse cx="240.23" cy="195.88" rx="4.1" ry="3.7"/><ellipse cx="240.66" cy="195.56" rx="4.1" ry="3.7"/><ellipse cx="241.09" cy="195.24" rx="4.1" ry="3.7"/><ellipse cx="241.52" cy="194.92" rx="4.1" ry="3.7"/><ellipse cx="241.96" cy="194.6" rx="4.1" ry="3.7"/><ellipse cx="242.39" cy="194.27" rx="4.1" ry="3.7"/><ellipse cx="242.82" cy="193.95" rx="4.1" ry="3.7"/><ellipse cx="243.25" cy="193.62" rx="4.1" ry="3.7"/><ellipse cx="243.68" cy="193.29" rx="4.1" ry="3.7"/><ellipse cx="244.12" cy="192.96" rx="4.1" ry="3.7"/><ellipse cx="244.55" cy="192.63" rx="4.1" ry="3.7"/><ellipse cx="244.98" cy="192.3" rx="4.1" ry="3.7"/><ellipse cx="245.41" cy="191.96" rx="4.1" ry="3.7"/><ellipse cx="245.84" cy="191.62" rx="4.1" ry="3.7"/><ellipse cx="246.28" cy="191.29" rx="4.1" ry="3.7"/><ellipse cx="246.71" cy="190.95" rx="4.1" ry="3.7"/><ellipse cx="247.14" cy="190.61" rx="4.1" ry="3.7"/><ellipse cx="247.57" cy="190.26" rx="4.1" ry="3.7"/><ellipse cx="248" cy="189.92" rx="4.1" ry="3.7"/><ellipse cx="248.44" cy="189.57" rx="4.1" ry="3.7"/><ellipse cx="248.87" cy="189.22" rx="4.1" ry="3.7"/><ellipse cx="249.3" cy="188.88" rx="4.1" ry="3.7"/><ellipse cx="249.73" cy="188.53" rx="4.1" ry="3.7"/><ellipse cx="250.16" cy="188.17" rx="4.1" ry="3.7"/><ellipse cx="250.6" cy="187.82" rx="4.1" ry="3.7"/><ellipse cx="251.03" cy="187.46" rx="4.1" ry="3.7"/><ellipse cx="251.46" cy="187.11" rx="4.1" ry="3.7"/><ellipse cx="251.89" cy="186.75" rx="4.1" ry="3.7"/><ellipse cx="252.32" cy="186.39" rx="4.1" ry="3.7"/><ellipse cx="252.76" cy="186.02" rx="4.1" ry="3.7"/><ellipse cx="253.19" cy="185.66" rx="4.1" ry="3.7"/><ellipse cx="253.62" cy="185.29" rx="4.1" ry="3.7"/><ellipse cx="254.05" cy="184.93" rx="4.1" ry="3.7"/><ellipse cx="254.48" cy="184.56" rx="4.1" ry="3.7"/><ellipse cx="254.92" cy="184.19" rx="4.1" ry="3.7"/><ellipse cx="255.35" cy="183.81" rx="4.1" ry="3.7"/><ellipse cx="255.78" cy="183.44" rx="4.1" ry="3.7"/><ellipse cx="256.21" cy="183.06" rx="4.1" ry="3.7"/><ellipse cx="256.64" cy="182.69" rx="4.1" ry="3.7"/><ellipse cx="257.08" cy="182.31" rx="4.1" ry="3.7"/><ellipse cx="257.51" cy="181.93" rx="4.1" ry="3.7"/><ellipse cx="257.94" cy="181.54" rx="4.1" ry="3.7"/><ellipse cx="258.37" cy="181.16" rx="4.1" ry="3.7"/><ellipse cx="258.8" cy="180.77" rx="4.1" ry="3.7"/><ellipse cx="259.24" cy="180.38" rx="4.1" ry="3.7"/><ellipse cx="259.67" cy="179.99" rx="4.1" ry="3.7"/><ellipse cx="260.1" cy="179.6" rx="4.1" ry="3.7"/><ellipse cx="260.53" cy="179.2" rx="4.1" ry="3.7"/><ellipse cx="260.96" cy="178.81" rx="4.1" ry="3.7"/><ellipse cx="261.4" cy="178.41" rx="4.1" ry="3.7"/><ellipse cx="261.83" cy="178.01" rx="4.1" ry="3.7"/><ellipse cx="262.26" cy="177.61" rx="4.1" ry="3.7"/><ellipse cx="262.69" cy="177.2" rx="4.1" ry="3.7"/><ellipse cx="263.12" cy="176.8" rx="4.1" ry="3.7"/><ellipse cx="263.56" cy="176.39" rx="4.1" ry="3.7"/><ellipse cx="263.99" cy="175.98" rx="4.1" ry="3.7"/><ellipse cx="264.42" cy="175.57" rx="4.1" ry="3.7"/><ellipse cx="264.85" cy="175.16" rx="4.1" ry="3.7"/><ellipse cx="265.28" cy="174.74" rx="4.1" ry="3.7"/><ellipse cx="265.72" cy="174.32" rx="4.1" ry="3.7"/><ellipse cx="266.15" cy="173.9" rx="4.1" ry="3.7"/><ellipse cx="266.58" cy="173.48" rx="4.1" ry="3.7"/><ellipse cx="267.01" cy="173.06" rx="4.1" ry="3.7"/><ellipse cx="267.44" cy="172.63" rx="4.1" ry="3.7"/><ellipse cx="267.88" cy="172.2" rx="4.1" ry="3.7"/><ellipse cx="268.31" cy="171.77" rx="4.1" ry="3.7"/><ellipse cx="268.74" cy="171.34" rx="4.1" ry="3.7"/><ellipse cx="269.17" cy="170.9" rx="4.1" ry="3.7"/><ellipse cx="269.6" cy="170.47" rx="4.1" ry="3.7"/><ellipse cx="270.04" cy="170.03" rx="4.1" ry="3.7"/><ellipse cx="270.47" cy="169.59" rx="4.1" ry="3.7"/><ellipse cx="270.9" cy="169.14" rx="4.1" ry="3.7"/><ellipse cx="271.33" cy="168.7" rx="4.1" ry="3.7"/><ellipse cx="271.76" cy="168.25" rx="4.1" ry="3.7"/><ellipse cx="272.2" cy="167.8" rx="4.1" ry="3.7"/><ellipse cx="272.63" cy="167.35" rx="4.1" ry="3.7"/><ellipse cx="273.06" cy="166.89" rx="4.1" ry="3.7"/><ellipse cx="273.49" cy="166.43" rx="4.1" ry="3.7"/><ellipse cx="273.92" cy="165.97" rx="4.1" ry="3.7"/><ellipse cx="274.36" cy="165.51" rx="4.1" ry="3.7"/><ellipse cx="274.79" cy="165.05" rx="4.1" ry="3.7"/><ellipse cx="275.22" cy="164.58" rx="4.1" ry="3.7"/><ellipse cx="275.65" cy="164.11" rx="4.1" ry="3.7"/><ellipse cx="276.08" cy="163.64" rx="4.1" ry="3.7"/><ellipse cx="276.52" cy="163.17" rx="4.1" ry="3.7"/><ellipse cx="276.95" cy="162.69" rx="4.1" ry="3.7"/><ellipse cx="277.38" cy="162.21" rx="4.1" ry="3.7"/><ellipse cx="277.81" cy="161.73" rx="4.1" ry="3.7"/><ellipse cx="278.24" cy="161.24" rx="4.1" ry="3.7"/><ellipse cx="278.68" cy="160.76" rx="4.1" ry="3.7"/><ellipse cx="279.11" cy="160.27" rx="4.1" ry="3.7"/><ellipse cx="279.54" cy="159.78" rx="4.1" ry="3.7"/><ellipse cx="279.97" cy="159.28" rx="4.1" ry="3.7"/><ellipse cx="280.4" cy="158.78" rx="4.1" ry="3.7"/><ellipse cx="280.84" cy="158.28" rx="4.1" ry="3.7"/><ellipse cx="281.27" cy="157.78" rx="4.1" ry="3.7"/><ellipse cx="281.7" cy="157.28" rx="4.1" ry="3.7"/><ellipse cx="282.13" cy="156.77" rx="4.1" ry="3.7"/><ellipse cx="282.56" cy="156.26" rx="4.1" ry="3.7"/><ellipse cx="283" cy="155.74" rx="4.1" ry="3.7"/><ellipse cx="283.43" cy="155.23" rx="4.1" ry="3.7"/><ellipse cx="283.86" cy="154.71" rx="4.1" ry="3.7"/><ellipse cx="284.29" cy="154.18" rx="4.1" ry="3.7"/><ellipse cx="284.72" cy="153.66" rx="4.1" ry="3.7"/><ellipse cx="285.16" cy="153.13" rx="4.1" ry="3.7"/><ellipse cx="285.59" cy="152.6" rx="4.1" ry="3.7"/><ellipse cx="286.02" cy="152.06" rx="4.1" ry="3.7"/><ellipse cx="286.45" cy="151.53" rx="4.1" ry="3.7"/><ellipse cx="286.88" cy="150.99" rx="4.1" ry="3.7"/><ellipse cx="287.32" cy="150.44" rx="4.1" ry="3.7"/><ellipse cx="287.75" cy="149.9" rx="4.1" ry="3.7"/><ellipse cx="288.18" cy="149.35" rx="4.1" ry="3.7"/><ellipse cx="288.61" cy="148.79" rx="4.1" ry="3.7"/><ellipse cx="289.04" cy="148.24" rx="4.1" ry="3.7"/><ellipse cx="289.48" cy="147.68" rx="4.1" ry="3.7"/><ellipse cx="289.91" cy="147.12" rx="4.1" ry="3.7"/><ellipse cx="290.34" cy="146.55" rx="4.1" ry="3.7"/><ellipse cx="290.77" cy="145.98" rx="4.1" ry="3.7"/><ellipse cx="291.2" cy="145.41" rx="4.1" ry="3.7"/><ellipse cx="291.64" cy="144.84" rx="4.1" ry="3.7"/><ellipse cx="292.07" cy="144.26" rx="4.1" ry="3.7"/><ellipse cx="292.5" cy="143.67" rx="4.1" ry="3.7"/><ellipse cx="292.93" cy="143.09" rx="4.1" ry="3.7"/><ellipse cx="293.36" cy="142.5" rx="4.1" ry="3.7"/><ellipse cx="293.8" cy="141.91" rx="4.1" ry="3.7"/><ellipse cx="294.23" cy="141.31" rx="4.1" ry="3.7"/><ellipse cx="294.66" cy="140.71" rx="4.1" ry="3.7"/><ellipse cx="295.09" cy="140.11" rx="4.1" ry="3.7"/><ellipse cx="295.52" cy="139.5" rx="4.1" ry="3.7"/><ellipse cx="295.96" cy="138.89" rx="4.1" ry="3.7"/><ellipse cx="296.39" cy="138.27" rx="4.1" ry="3.7"/><ellipse cx="296.82" cy="137.66" rx="4.1" ry="3.7"/><ellipse cx="297.25" cy="137.03" rx="4.1" ry="3.7"/><ellipse cx="297.68" cy="136.41" rx="4.1" ry="3.7"/><ellipse cx="298.12" cy="135.78" rx="4.1" ry="3.7"/><ellipse cx="298.55" cy="135.14" rx="4.1" ry="3.7"/><ellipse cx="298.98" cy="134.51" rx="4.1" ry="3.7"/><ellipse cx="299.41" cy="133.87" rx="4.1" ry="3.7"/><ellipse cx="299.84" cy="133.22" rx="4.1" ry="3.7"/><ellipse cx="300.28" cy="132.57" rx="4.1" ry="3.7"/><ellipse cx="300.71" cy="131.92" rx="4.1" ry="3.7"/><ellipse cx="301.14" cy="131.26" rx="4.1" ry="3.7"/><ellipse cx="301.57" cy="130.6" rx="4.1" ry="3.7"/><ellipse cx="302" cy="129.93" rx="4.1" ry="3.7"/><ellipse cx="302.44" cy="129.26" rx="4.1" ry="3.7"/><ellipse cx="302.87" cy="128.59" rx="4.1" ry="3.7"/><ellipse cx="303.3" cy="127.91" rx="4.1" ry="3.7"/><ellipse cx="303.73" cy="127.23" rx="4.1" ry="3.7"/><ellipse cx="304.16" cy="126.54" rx="4.1" ry="3.7"/><ellipse cx="304.6" cy="125.85" rx="4.1" ry="3.7"/><ellipse cx="305.03" cy="125.15" rx="4.1" ry="3.7"/><ellipse cx="305.46" cy="124.45" rx="4.1" ry="3.7"/><ellipse cx="305.89" cy="123.75" rx="4.1" ry="3.7"/><ellipse cx="306.32" cy="123.04" rx="4.1" ry="3.7"/><ellipse cx="306.76" cy="122.32" rx="4.1" ry="3.7"/><ellipse cx="307.19" cy="121.6" rx="4.1" ry="3.7"/><ellipse cx="307.62" cy="120.88" rx="4.1" ry="3.7"/><ellipse cx="308.05" cy="120.15" rx="4.1" ry="3.7"/><ellipse cx="308.48" cy="119.42" rx="4.1" ry="3.7"/><ellipse cx="308.92" cy="118.68" rx="4.1" ry="3.7"/><ellipse cx="309.35" cy="117.94" rx="4.1" ry="3.7"/><ellipse cx="309.78" cy="117.19" rx="4.1" ry="3.7"/><ellipse cx="310.21" cy="116.44" rx="4.1" ry="3.7"/><ellipse cx="310.64" cy="115.68" rx="4.1" ry="3.7"/><ellipse cx="311.08" cy="114.92" rx="4.1" ry="3.7"/><ellipse cx="311.51" cy="114.15" rx="4.1" ry="3.7"/><ellipse cx="311.94" cy="113.38" rx="4.1" ry="3.7"/><ellipse cx="312.37" cy="112.6" rx="4.1" ry="3.7"/><ellipse cx="312.8" cy="111.82" rx="4.1" ry="3.7"/><ellipse cx="313.24" cy="111.03" rx="4.1" ry="3.7"/><ellipse cx="313.67" cy="110.23" rx="4.1" ry="3.7"/><ellipse cx="314.1" cy="109.43" rx="4.1" ry="3.7"/><ellipse cx="314.53" cy="108.63" rx="4.1" ry="3.7"/><ellipse cx="314.96" cy="107.82" rx="4.1" ry="3.7"/><ellipse cx="315.4" cy="107" rx="4.1" ry="3.7"/><ellipse cx="315.83" cy="106.18" rx="4.1" ry="3.7"/><ellipse cx="316.26" cy="105.36" rx="4.1" ry="3.7"/><ellipse cx="316.69" cy="104.52" rx="4.1" ry="3.7"/><ellipse cx="317.12" cy="103.68" rx="4.1" ry="3.7"/><ellipse cx="317.56" cy="102.84" rx="4.1" ry="3.7"/><ellipse cx="317.99" cy="101.99" rx="4.1" ry="3.7"/><ellipse cx="318.42" cy="101.14" rx="4.1" ry="3.7"/><ellipse cx="318.85" cy="100.27" rx="4.1" ry="3.7"/><ellipse cx="319.28" cy="99.41" rx="4.1" ry="3.7"/><ellipse cx="319.72" cy="98.53" rx="4.1" ry="3.7"/><ellipse cx="320.15" cy="97.65" rx="4.1" ry="3.7"/><ellipse cx="320.58" cy="96.77" rx="4.1" ry="3.7"/><ellipse cx="321.01" cy="95.87" rx="4.1" ry="3.7"/><ellipse cx="321.44" cy="94.98" rx="4.1" ry="3.7"/><ellipse cx="321.88" cy="94.07" rx="4.1" ry="3.7"/><ellipse cx="322.31" cy="93.16" rx="4.1" ry="3.7"/><ellipse cx="322.74" cy="92.24" rx="4.1" ry="3.7"/><ellipse cx="323.17" cy="91.32" rx="4.1" ry="3.7"/><ellipse cx="323.6" cy="90.39" rx="4.1" ry="3.7"/><ellipse cx="324.04" cy="89.45" rx="4.1" ry="3.7"/><ellipse cx="324.47" cy="88.51" rx="4.1" ry="3.7"/><ellipse cx="324.9" cy="87.56" rx="4.1" ry="3.7"/><ellipse cx="325.33" cy="86.6" rx="4.1" ry="3.7"/><ellipse cx="325.76" cy="85.64" rx="4.1" ry="3.7"/><ellipse cx="326.2" cy="84.66" rx="4.1" ry="3.7"/><ellipse cx="326.63" cy="83.69" rx="4.1" ry="3.7"/><ellipse cx="327.06" cy="82.7" rx="4.1" ry="3.7"/><ellipse cx="327.49" cy="81.71" rx="4.1" ry="3.7"/><ellipse cx="327.92" cy="80.71" rx="4.1" ry="3.7"/><ellipse cx="328.36" cy="79.7" rx="4.1" ry="3.7"/><ellipse cx="328.79" cy="78.69" rx="4.1" ry="3.7"/><ellipse cx="329.22" cy="77.67" rx="4.1" ry="3.7"/><ellipse cx="329.65" cy="76.64" rx="4.1" ry="3.7"/><ellipse cx="330.08" cy="75.61" rx="4.1" ry="3.7"/><ellipse cx="330.52" cy="74.56" rx="4.1" ry="3.7"/><ellipse cx="330.95" cy="73.51" rx="4.1" ry="3.7"/><ellipse cx="331.38" cy="72.45" rx="4.1" ry="3.7"/><ellipse cx="331.81" cy="71.39" rx="4.1" ry="3.7"/><ellipse cx="332.24" cy="70.31" rx="4.1" ry="3.7"/><ellipse cx="332.68" cy="69.23" rx="4.1" ry="3.7"/><ellipse cx="333.11" cy="68.14" rx="4.1" ry="3.7"/><ellipse cx="333.54" cy="67.04" rx="4.1" ry="3.7"/><ellipse cx="333.97" cy="65.94" rx="4.1" ry="3.7"/><ellipse cx="334.4" cy="64.82" rx="4.1" ry="3.7"/><ellipse cx="334.84" cy="63.7" rx="4.1" ry="3.7"/><ellipse cx="335.27" cy="62.57" rx="4.1" ry="3.7"/><ellipse cx="335.7" cy="61.43" rx="4.1" ry="3.7"/><ellipse cx="336.13" cy="60.28" rx="4.1" ry="3.7"/><circle cx="336.56" cy="59.13" r="4" stroke="#000" stroke-width="1"/><ellipse cx="336.9" cy="539.87" rx="4.4" ry="3.7"/><ellipse cx="337.33" cy="538.65" rx="4.4" ry="3.7"/><ellipse cx="337.76" cy="537.44" rx="4.4" ry="3.7"/><ellipse cx="338.19" cy="536.24" rx="4.4" ry="3.7"/><ellipse cx="338.62" cy="535.04" rx="4.4" ry="3.7"/><ellipse cx="339.05" cy="533.84" rx="4.4" ry="3.7"/><ellipse cx="339.48" cy="532.65" rx="4.4" ry="3.7"/><ellipse cx="339.91" cy="531.46" rx="4.4" ry="3.7"/><ellipse cx="340.34" cy="530.28" rx="4.4" ry="3.7"/><ellipse cx="340.77" cy="529.1" rx="4.4" ry="3.7"/><ellipse cx="341.2" cy="527.93" rx="4.4" ry="3.7"/><ellipse cx="341.63" cy="526.76" rx="4.4" ry="3.7"/><ellipse cx="342.06" cy="525.6" rx="4.4" ry="3.7"/><ellipse cx="342.49" cy="524.44" rx="4.4" ry="3.7"/><ellipse cx="342.92" cy="523.29" rx="4.4" ry="3.7"/><ellipse cx="343.35" cy="522.14" rx="4.4" ry="3.7"/><ellipse cx="343.78" cy="521" rx="4.4" ry="3.7"/><ellipse cx="344.21" cy="519.86" rx="4.4" ry="3.7"/><ellipse cx="344.64" cy="518.73" rx="4.4" ry="3.7"/><ellipse cx="345.07" cy="517.61" rx="4.4" ry="3.7"/><ellipse cx="345.5" cy="516.49" rx="4.4" ry="3.7"/><ellipse cx="345.93" cy="515.38" rx="4.4" ry="3.7"/><ellipse cx="346.36" cy="514.27" rx="4.4" ry="3.7"/><ellipse cx="346.79" cy="513.17" rx="4.4" ry="3.7"/><ellipse cx="347.22" cy="512.07" rx="4.4" ry="3.7"/><ellipse cx="347.65" cy="510.98" rx="4.4" ry="3.7"/><ellipse cx="348.08" cy="509.89" rx="4.4" ry="3.7"/><ellipse cx="348.51" cy="508.81" rx="4.4" ry="3.7"/><ellipse cx="348.94" cy="507.74" rx="4.4" ry="3.7"/><ellipse cx="349.37" cy="506.68" rx="4.4" ry="3.7"/><ellipse cx="349.8" cy="505.61" rx="4.4" ry="3.7"/><ellipse cx="350.24" cy="504.56" rx="4.4" ry="3.7"/><ellipse cx="350.67" cy="503.51" rx="4.4" ry="3.7"/><ellipse cx="351.1" cy="502.47" rx="4.4" ry="3.7"/><ellipse cx="351.53" cy="501.44" rx="4.4" ry="3.7"/><ellipse cx="351.96" cy="500.41" rx="4.4" ry="3.7"/><ellipse cx="352.39" cy="499.38" rx="4.4" ry="3.7"/><ellipse cx="352.82" cy="498.37" rx="4.4" ry="3.7"/><ellipse cx="353.25" cy="497.36" rx="4.4" ry="3.7"/><ellipse cx="353.68" cy="496.36" rx="4.4" ry="3.7"/><ellipse cx="354.11" cy="495.36" rx="4.4" ry="3.7"/><ellipse cx="354.54" cy="494.37" rx="4.4" ry="3.7"/><ellipse cx="354.97" cy="493.39" rx="4.4" ry="3.7"/><ellipse cx="355.4" cy="492.41" rx="4.4" ry="3.7"/><ellipse cx="355.83" cy="491.44" rx="4.4" ry="3.7"/><ellipse cx="356.26" cy="490.48" rx="4.4" ry="3.7"/><ellipse cx="356.69" cy="489.53" rx="4.4" ry="3.7"/><ellipse cx="357.12" cy="488.58" rx="4.4" ry="3.7"/><ellipse cx="357.55" cy="487.64" rx="4.4" ry="3.7"/><ellipse cx="357.98" cy="486.7" rx="4.4" ry="3.7"/><ellipse cx="358.41" cy="485.78" rx="4.4" ry="3.7"/><ellipse cx="358.84" cy="484.86" rx="4.4" ry="3.7"/><ellipse cx="359.27" cy="483.95" rx="4.4" ry="3.7"/><ellipse cx="359.7" cy="483.04" rx="4.4" ry="3.7"/><ellipse cx="360.13" cy="482.15" rx="4.4" ry="3.7"/><ellipse cx="360.56" cy="481.26" rx="4.4" ry="3.7"/><ellipse cx="360.99" cy="480.38" rx="4.4" ry="3.7"/><ellipse cx="361.42" cy="479.5" rx="4.4" ry="3.7"/><ellipse cx="361.85" cy="478.64" rx="4.4" ry="3.7"/><ellipse cx="362.28" cy="477.78" rx="4.4" ry="3.7"/><ellipse cx="362.71" cy="476.93" rx="4.4" ry="3.7"/><ellipse cx="363.14" cy="476.08" rx="4.4" ry="3.7"/><ellipse cx="363.57" cy="475.25" rx="4.4" ry="3.7"/><ellipse cx="364" cy="474.42" rx="4.4" ry="3.7"/><ellipse cx="364.43" cy="473.6" rx="4.4" ry="3.7"/><ellipse cx="364.86" cy="472.78" rx="4.4" ry="3.7"/><ellipse cx="365.29" cy="471.98" rx="4.4" ry="3.7"/><ellipse cx="365.72" cy="471.18" rx="4.4" ry="3.7"/><ellipse cx="366.15" cy="470.39" rx="4.4" ry="3.7"/><ellipse cx="366.58" cy="469.61" rx="4.4" ry="3.7"/><ellipse cx="367.01" cy="468.83" rx="4.4" ry="3.7"/><ellipse cx="367.44" cy="468.06" rx="4.4" ry="3.7"/><ellipse cx="367.87" cy="467.3" rx="4.4" ry="3.7"/><ellipse cx="368.3" cy="466.55" rx="4.4" ry="3.7"/><ellipse cx="368.73" cy="465.8" rx="4.4" ry="3.7"/><ellipse cx="369.16" cy="465.06" rx="4.4" ry="3.7"/><ellipse cx="369.59" cy="464.33" rx="4.4" ry="3.7"/><ellipse cx="370.02" cy="463.61" rx="4.4" ry="3.7"/><ellipse cx="370.45" cy="462.89" rx="4.4" ry="3.7"/><ellipse cx="370.88" cy="462.18" rx="4.4" ry="3.7"/><ellipse cx="371.31" cy="461.48" rx="4.4" ry="3.7"/><ellipse cx="371.74" cy="460.79" rx="4.4" ry="3.7"/><ellipse cx="372.17" cy="460.1" rx="4.4" ry="3.7"/><ellipse cx="372.6" cy="459.42" rx="4.4" ry="3.7"/><ellipse cx="373.03" cy="458.75" rx="4.4" ry="3.7"/><ellipse cx="373.46" cy="458.08" rx="4.4" ry="3.7"/><ellipse cx="373.89" cy="457.43" rx="4.4" ry="3.7"/><ellipse cx="374.32" cy="456.78" rx="4.4" ry="3.7"/><ellipse cx="374.75" cy="456.13" rx="4.4" ry="3.7"/><ellipse cx="375.18" cy="455.5" rx="4.4" ry="3.7"/><ellipse cx="375.61" cy="454.87" rx="4.4" ry="3.7"/><ellipse cx="376.04" cy="454.25" rx="4.4" ry="3.7"/><ellipse cx="376.48" cy="453.63" rx="4.4" ry="3.7"/><ellipse cx="376.91" cy="453.03" rx="4.4" ry="3.7"/><ellipse cx="377.34" cy="452.43" rx="4.4" ry="3.7"/><ellipse cx="377.77" cy="451.83" rx="4.4" ry="3.7"/><ellipse cx="378.2" cy="451.25" rx="4.4" ry="3.7"/><ellipse cx="378.63" cy="450.67" rx="4.4" ry="3.7"/><ellipse cx="379.06" cy="450.1" rx="4.4" ry="3.7"/><ellipse cx="379.49" cy="449.53" rx="4.4" ry="3.7"/><ellipse cx="379.92" cy="448.98" rx="4.4" ry="3.7"/><ellipse cx="380.35" cy="448.43" rx="4.4" ry="3.7"/><ellipse cx="380.78" cy="447.88" rx="4.4" ry="3.7"/><ellipse cx="381.21" cy="447.35" rx="4.4" ry="3.7"/><ellipse cx="381.64" cy="446.82" rx="4.4" ry="3.7"/><ellipse cx="382.07" cy="446.3" rx="4.4" ry="3.7"/><ellipse cx="382.5" cy="445.78" rx="4.4" ry="3.7"/><ellipse cx="382.93" cy="445.27" rx="4.4" ry="3.7"/><ellipse cx="383.36" cy="444.77" rx="4.4" ry="3.7"/><ellipse cx="383.79" cy="444.28" rx="4.4" ry="3.7"/><ellipse cx="384.22" cy="443.79" rx="4.4" ry="3.7"/><ellipse cx="384.65" cy="443.31" rx="4.4" ry="3.7"/><ellipse cx="385.08" cy="442.84" rx="4.4" ry="3.7"/><ellipse cx="385.51" cy="442.37" rx="4.4" ry="3.7"/><ellipse cx="385.94" cy="441.91" rx="4.4" ry="3.7"/><ellipse cx="386.37" cy="441.46" rx="4.4" ry="3.7"/><ellipse cx="386.8" cy="441.01" rx="4.4" ry="3.7"/><ellipse cx="387.23" cy="440.58" rx="4.4" ry="3.7"/><ellipse cx="387.66" cy="440.14" rx="4.4" ry="3.7"/><ellipse cx="388.09" cy="439.72" rx="4.4" ry="3.7"/><ellipse cx="388.52" cy="439.3" rx="4.4" ry="3.7"/><ellipse cx="388.95" cy="438.89" rx="4.4" ry="3.7"/><ellipse cx="389.38" cy="438.48" rx="4.4" ry="3.7"/><ellipse cx="389.81" cy="438.09" rx="4.4" ry="3.7"/><ellipse cx="390.24" cy="437.7" rx="4.4" ry="3.7"/><ellipse cx="390.67" cy="437.31" rx="4.4" ry="3.7"/><ellipse cx="391.1" cy="436.93" rx="4.4" ry="3.7"/><ellipse cx="391.53" cy="436.56" rx="4.4" ry="3.7"/><ellipse cx="391.96" cy="436.2" rx="4.4" ry="3.7"/><ellipse cx="392.39" cy="435.84" rx="4.4" ry="3.7"/><ellipse cx="392.82" cy="435.49" rx="4.4" ry="3.7"/><ellipse cx="393.25" cy="435.15" rx="4.4" ry="3.7"/><ellipse cx="393.68" cy="434.81" rx="4.4" ry="3.7"/><ellipse cx="394.11" cy="434.48" rx="4.4" ry="3.7"/><ellipse cx="394.54" cy="434.15" rx="4.4" ry="3.7"/><ellipse cx="394.97" cy="433.83" rx="4.4" ry="3.7"/><ellipse cx="395.4" cy="433.52" rx="4.4" ry="3.7"/><ellipse cx="395.83" cy="433.21" rx="4.4" ry="3.7"/><ellipse cx="396.26" cy="432.91" rx="4.4" ry="3.7"/><ellipse cx="396.69" cy="432.62" rx="4.4" ry="3.7"/><ellipse cx="397.12" cy="432.33" rx="4.4" ry="3.7"/><ellipse cx="397.55" cy="432.04" rx="4.4" ry="3.7"/><ellipse cx="397.98" cy="431.76" rx="4.4" ry="3.7"/><ellipse cx="398.41" cy="431.49" rx="4.4" ry="3.7"/><ellipse cx="398.84" cy="431.22" rx="4.4" ry="3.7"/><ellipse cx="399.27" cy="430.96" rx="4.4" ry="3.7"/><ellipse cx="399.7" cy="430.7" rx="4.4" ry="3.7"/><ellipse cx="400.13" cy="430.45" rx="4.4" ry="3.7"/><ellipse cx="400.56" cy="430.2" rx="4.4" ry="3.7"/><ellipse cx="400.99" cy="429.96" rx="4.4" ry="3.7"/><ellipse cx="401.42" cy="429.72" rx="4.4" ry="3.7"/><ellipse cx="401.85" cy="429.48" rx="4.4" ry="3.7"/><ellipse cx="402.28" cy="429.25" rx="4.4" ry="3.7"/><ellipse cx="402.71" cy="429.03" rx="4.4" ry="3.7"/><ellipse cx="403.15" cy="428.81" rx="4.4" ry="3.7"/><ellipse cx="403.58" cy="428.59" rx="4.4" ry="3.7"/><ellipse cx="404.01" cy="428.38" rx="4.4" ry="3.7"/><ellipse cx="404.44" cy="428.17" rx="4.4" ry="3.7"/><ellipse cx="404.87" cy="427.97" rx="4.4" ry="3.7"/><ellipse cx="405.3" cy="427.77" rx="4.4" ry="3.7"/><ellipse cx="405.73" cy="427.57" rx="4.4" ry="3.7"/><ellipse cx="406.16" cy="427.38" rx="4.4" ry="3.7"/><ellipse cx="406.59" cy="427.19" rx="4.4" ry="3.7"/><ellipse cx="407.02" cy="427" rx="4.4" ry="3.7"/><ellipse cx="407.45" cy="426.82" rx="4.4" ry="3.7"/><ellipse cx="407.88" cy="426.64" rx="4.4" ry="3.7"/><ellipse cx="408.31" cy="426.46" rx="4.4" ry="3.7"/><ellipse cx="408.74" cy="426.29" rx="4.4" ry="3.7"/><ellipse cx="409.17" cy="426.12" rx="4.4" ry="3.7"/><ellipse cx="409.6" cy="425.95" rx="4.4" ry="3.7"/><ellipse cx="410.03" cy="425.78" rx="4.4" ry="3.7"/><ellipse cx="410.46" cy="425.62" rx="4.4" ry="3.7"/><ellipse cx="410.89" cy="425.46" rx="4.4" ry="3.7"/><ellipse cx="411.32" cy="425.31" rx="4.4" ry="3.7"/><ellipse cx="411.75" cy="425.15" rx="4.4" ry="3.7"/><ellipse cx="412.18" cy="425" rx="4.4" ry="3.7"/><ellipse cx="412.61" cy="424.85" rx="4.4" ry="3.7"/><ellipse cx="413.04" cy="424.7" rx="4.4" ry="3.7"/><ellipse cx="413.47" cy="424.56" rx="4.4" ry="3.7"/><ellipse cx="413.9" cy="424.41" rx="4.4" ry="3.7"/><ellipse cx="414.33" cy="424.27" rx="4.4" ry="3.7"/><ellipse cx="414.76" cy="424.13" rx="4.4" ry="3.7"/><ellipse cx="415.19" cy="423.99" rx="4.4" ry="3.7"/><ellipse cx="415.62" cy="423.86" rx="4.4" ry="3.7"/><ellipse cx="416.05" cy="423.73" rx="4.4" ry="3.7"/><ellipse cx="416.48" cy="423.6" rx="4.4" ry="3.7"/><ellipse cx="416.91" cy="423.47" rx="4.4" ry="3.7"/><ellipse cx="417.34" cy="423.34" rx="4.4" ry="3.7"/><ellipse cx="417.77" cy="423.21" rx="4.4" ry="3.7"/><ellipse cx="418.2" cy="423.09" rx="4.4" ry="3.7"/><ellipse cx="418.63" cy="422.97" rx="4.4" ry="3.7"/><ellipse cx="419.06" cy="422.85" rx="4.4" ry="3.7"/><ellipse cx="419.49" cy="422.73" rx="4.4" ry="3.7"/><ellipse cx="419.92" cy="422.62" rx="4.4" ry="3.7"/><ellipse cx="420.35" cy="422.5" rx="4.4" ry="3.7"/><ellipse cx="420.78" cy="422.39" rx="4.4" ry="3.7"/><ellipse cx="421.21" cy="422.28" rx="4.4" ry="3.7"/><ellipse cx="421.64" cy="422.17" rx="4.4" ry="3.7"/><ellipse cx="422.07" cy="422.06" rx="4.4" ry="3.7"/><ellipse cx="422.5" cy="421.96" rx="4.4" ry="3.7"/><ellipse cx="422.93" cy="421.85" rx="4.4" ry="3.7"/><ellipse cx="423.36" cy="421.75" rx="4.4" ry="3.7"/><ellipse cx="423.79" cy="421.65" rx="4.4" ry="3.7"/><ellipse cx="424.22" cy="421.55" rx="4.4" ry="3.7"/><ellipse cx="424.65" cy="421.45" rx="4.4" ry="3.7"/><ellipse cx="425.08" cy="421.35" rx="4.4" ry="3.7"/><ellipse cx="425.51" cy="421.26" rx="4.4" ry="3.7"/><ellipse cx="425.94" cy="421.16" rx="4.4" ry="3.7"/><ellipse cx="426.37" cy="421.07" rx="4.4" ry="3.7"/><ellipse cx="426.8" cy="420.98" rx="4.4" ry="3.7"/><ellipse cx="427.23" cy="420.89" rx="4.4" ry="3.7"/><ellipse cx="427.66" cy="420.8" rx="4.4" ry="3.7"/><ellipse cx="428.09" cy="420.71" rx="4.4" ry="3.7"/><ellipse cx="428.52" cy="420.63" rx="4.4" ry="3.7"/><ellipse cx="428.95" cy="420.54" rx="4.4" ry="3.7"/><ellipse cx="429.39" cy="420.46" rx="4.4" ry="3.7"/><ellipse cx="429.82" cy="420.38" rx="4.4" ry="3.7"/><ellipse cx="430.25" cy="420.3" rx="4.4" ry="3.7"/><ellipse cx="430.68" cy="420.22" rx="4.4" ry="3.7"/><ellipse cx="431.11" cy="420.14" rx="4.4" ry="3.7"/><ellipse cx="431.54" cy="420.06" rx="4.4" ry="3.7"/><ellipse cx="431.97" cy="419.98" rx="4.4" ry="3.7"/><ellipse cx="432.4" cy="419.91" rx="4.4" ry="3.7"/><ellipse cx="432.83" cy="419.83" rx="4.4" ry="3.7"/><ellipse cx="433.26" cy="419.76" rx="4.4" ry="3.7"/><ellipse cx="433.69" cy="419.69" rx="4.4" ry="3.7"/><ellipse cx="434.12" cy="419.62" rx="4.4" ry="3.7"/><ellipse cx="434.55" cy="419.54" rx="4.4" ry="3.7"/><ellipse cx="434.98" cy="419.47" rx="4.4" ry="3.7"/><ellipse cx="435.41" cy="419.4" rx="4.4" ry="3.7"/><ellipse cx="435.84" cy="419.34" rx="4.4" ry="3.7"/><ellipse cx="436.27" cy="419.27" rx="4.4" ry="3.7"/><ellipse cx="436.7" cy="419.2" rx="4.4" ry="3.7"/><ellipse cx="437.13" cy="419.14" rx="4.4" ry="3.7"/><ellipse cx="437.56" cy="419.07" rx="4.4" ry="3.7"/><ellipse cx="437.99" cy="419.01" rx="4.4" ry="3.7"/><ellipse cx="438.42" cy="418.95" rx="4.4" ry="3.7"/><ellipse cx="438.85" cy="418.88" rx="4.4" ry="3.7"/><ellipse cx="439.28" cy="418.82" rx="4.4" ry="3.7"/><ellipse cx="439.71" cy="418.76" rx="4.4" ry="3.7"/><ellipse cx="440.14" cy="418.71" rx="4.4" ry="3.7"/><ellipse cx="440.57" cy="418.65" rx="4.4" ry="3.7"/><ellipse cx="441" cy="418.59" rx="4.4" ry="3.7"/><ellipse cx="441.43" cy="418.54" rx="4.4" ry="3.7"/><ellipse cx="441.86" cy="418.49" rx="4.4" ry="3.7"/><ellipse cx="442.29" cy="418.43" rx="4.4" ry="3.7"/><ellipse cx="442.72" cy="418.38" rx="4.4" ry="3.7"/><ellipse cx="443.15" cy="418.33" rx="4.4" ry="3.7"/><ellipse cx="443.58" cy="418.29" rx="4.4" ry="3.7"/><ellipse cx="444.01" cy="418.24" rx="4.4" ry="3.7"/><ellipse cx="444.44" cy="418.2" rx="4.4" ry="3.7"/><ellipse cx="444.87" cy="418.15" rx="4.4" ry="3.7"/><ellipse cx="445.3" cy="418.11" rx="4.4" ry="3.7"/><ellipse cx="445.73" cy="418.07" rx="4.4" ry="3.7"/><ellipse cx="446.16" cy="418.03" rx="4.4" ry="3.7"/><ellipse cx="446.59" cy="417.99" rx="4.4" ry="3.7"/><ellipse cx="447.02" cy="417.96" rx="4.4" ry="3.7"/><ellipse cx="447.45" cy="417.93" rx="4.4" ry="3.7"/><ellipse cx="447.88" cy="417.89" rx="4.4" ry="3.7"/><ellipse cx="448.31" cy="417.86" rx="4.4" ry="3.7"/><ellipse cx="448.74" cy="417.84" rx="4.4" ry="3.7"/><ellipse cx="449.17" cy="417.81" rx="4.4" ry="3.7"/><ellipse cx="449.6" cy="417.78" rx="4.4" ry="3.7"/><ellipse cx="450.03" cy="417.76" rx="4.4" ry="3.7"/><ellipse cx="450.46" cy="417.74" rx="4.4" ry="3.7"/><ellipse cx="450.89" cy="417.72" rx="4.4" ry="3.7"/><ellipse cx="451.32" cy="417.7" rx="4.4" ry="3.7"/><ellipse cx="451.75" cy="417.69" rx="4.4" ry="3.7"/><ellipse cx="452.18" cy="417.68" rx="4.4" ry="3.7"/><ellipse cx="452.61" cy="417.66" rx="4.4" ry="3.7"/><ellipse cx="453.04" cy="417.66" rx="4.4" ry="3.7"/><ellipse cx="453.47" cy="417.65" rx="4.4" ry="3.7"/><ellipse cx="453.9" cy="417.64" rx="4.4" ry="3.7"/><ellipse cx="454.33" cy="417.64" rx="4.4" ry="3.7"/><ellipse cx="454.76" cy="417.64" rx="4.4" ry="3.7"/><ellipse cx="455.19" cy="417.64" rx="4.4" ry="3.7"/><ellipse cx="455.63" cy="417.65" rx="4.4" ry="3.7"/><ellipse cx="456.06" cy="417.65" rx="4.4" ry="3.7"/><ellipse cx="456.49" cy="417.66" rx="4.4" ry="3.7"/><ellipse cx="456.92" cy="417.67" rx="4.4" ry="3.7"/><ellipse cx="457.35" cy="417.69" rx="4.4" ry="3.7"/><ellipse cx="457.78" cy="417.7" rx="4.4" ry="3.7"/><ellipse cx="458.21" cy="417.72" rx="4.4" ry="3.7"/><ellipse cx="458.64" cy="417.74" rx="4.4" ry="3.7"/><ellipse cx="459.07" cy="417.77" rx="4.4" ry="3.7"/><ellipse cx="459.5" cy="417.79" rx="4.4" ry="3.7"/><ellipse cx="459.93" cy="417.82" rx="4.4" ry="3.7"/><ellipse cx="460.36" cy="417.85" rx="4.4" ry="3.7"/><ellipse cx="460.79" cy="417.89" rx="4.4" ry="3.7"/><ellipse cx="461.22" cy="417.92" rx="4.4" ry="3.7"/><ellipse cx="461.65" cy="417.96" rx="4.4" ry="3.7"/><ellipse cx="462.08" cy="418" rx="4.4" ry="3.7"/><ellipse cx="462.51" cy="418.05" rx="4.4" ry="3.7"/><ellipse cx="462.94" cy="418.09" rx="4.4" ry="3.7"/><ellipse cx="463.37" cy="418.14" rx="4.4" ry="3.7"/><ellipse cx="463.8" cy="418.2" rx="4.4" ry="3.7"/><ellipse cx="464.23" cy="418.25" rx="4.4" ry="3.7"/><ellipse cx="464.66" cy="418.31" rx="4.4" ry="3.7"/><ellipse cx="465.09" cy="418.37" rx="4.4" ry="3.7"/><ellipse cx="465.52" cy="418.44" rx="4.4" ry="3.7"/><ellipse cx="465.95" cy="418.51" rx="4.4" ry="3.7"/><ellipse cx="466.38" cy="418.58" rx="4.4" ry="3.7"/><ellipse cx="466.81" cy="418.65" rx="4.4" ry="3.7"/><ellipse cx="467.24" cy="418.73" rx="4.4" ry="3.7"/><ellipse cx="467.67" cy="418.81" rx="4.4" ry="3.7"/><ellipse cx="468.1" cy="418.89" rx="4.4" ry="3.7"/><ellipse cx="468.53" cy="418.98" rx="4.4" ry="3.7"/><ellipse cx="468.96" cy="419.07" rx="4.4" ry="3.7"/><ellipse cx="469.39" cy="419.16" rx="4.4" ry="3.7"/><ellipse cx="469.82" cy="419.25" rx="4.4" ry="3.7"/><ellipse cx="470.25" cy="419.35" rx="4.4" ry="3.7"/><ellipse cx="470.68" cy="419.46" rx="4.4" ry="3.7"/><ellipse cx="471.11" cy="419.56" rx="4.4" ry="3.7"/><ellipse cx="471.54" cy="419.67" rx="4.4" ry="3.7"/><ellipse cx="471.97" cy="419.78" rx="4.4" ry="3.7"/><ellipse cx="472.4" cy="419.9" rx="4.4" ry="3.7"/><ellipse cx="472.83" cy="420.02" rx="4.4" ry="3.7"/><ellipse cx="473.26" cy="420.14" rx="4.4" ry="3.7"/><ellipse cx="473.69" cy="420.26" rx="4.4" ry="3.7"/><ellipse cx="474.12" cy="420.39" rx="4.4" ry="3.7"/><ellipse cx="474.55" cy="420.52" rx="4.4" ry="3.7"/><ellipse cx="474.98" cy="420.66" rx="4.4" ry="3.7"/><ellipse cx="475.41" cy="420.79" rx="4.4" ry="3.7"/><ellipse cx="475.84" cy="420.93" rx="4.4" ry="3.7"/><ellipse cx="476.27" cy="421.08" rx="4.4" ry="3.7"/><ellipse cx="476.7" cy="421.22" rx="4.4" ry="3.7"/><ellipse cx="477.13" cy="421.37" rx="4.4" ry="3.7"/><ellipse cx="477.56" cy="421.52" rx="4.4" ry="3.7"/><ellipse cx="477.99" cy="421.68" rx="4.4" ry="3.7"/><ellipse cx="478.42" cy="421.83" rx="4.4" ry="3.7"/><ellipse cx="478.85" cy="421.99" rx="4.4" ry="3.7"/><ellipse cx="479.28" cy="422.16" rx="4.4" ry="3.7"/><ellipse cx="479.71" cy="422.32" rx="4.4" ry="3.7"/><ellipse cx="480.14" cy="422.49" rx="4.4" ry="3.7"/><ellipse cx="480.57" cy="422.66" rx="4.4" ry="3.7"/><ellipse cx="481" cy="422.83" rx="4.4" ry="3.7"/><ellipse cx="481.43" cy="423.01" rx="4.4" ry="3.7"/><ellipse cx="481.87" cy="423.19" rx="4.4" ry="3.7"/><ellipse cx="482.3" cy="423.37" rx="4.4" ry="3.7"/><ellipse cx="482.73" cy="423.55" rx="4.4" ry="3.7"/><ellipse cx="483.16" cy="423.74" rx="4.4" ry="3.7"/><ellipse cx="483.59" cy="423.93" rx="4.4" ry="3.7"/><ellipse cx="484.02" cy="424.12" rx="4.4" ry="3.7"/><ellipse cx="484.45" cy="424.31" rx="4.4" ry="3.7"/><ellipse cx="484.88" cy="424.5" rx="4.4" ry="3.7"/><ellipse cx="485.31" cy="424.7" rx="4.4" ry="3.7"/><ellipse cx="485.74" cy="424.9" rx="4.4" ry="3.7"/><ellipse cx="486.17" cy="425.11" rx="4.4" ry="3.7"/><ellipse cx="486.6" cy="425.31" rx="4.4" ry="3.7"/><ellipse cx="487.03" cy="425.52" rx="4.4" ry="3.7"/><ellipse cx="487.46" cy="425.73" rx="4.4" ry="3.7"/><ellipse cx="487.89" cy="425.94" rx="4.4" ry="3.7"/><ellipse cx="488.32" cy="426.15" rx="4.4" ry="3.7"/><ellipse cx="488.75" cy="426.37" rx="4.4" ry="3.7"/><ellipse cx="489.18" cy="426.58" rx="4.4" ry="3.7"/><ellipse cx="489.61" cy="426.8" rx="4.4" ry="3.7"/><ellipse cx="490.04" cy="427.03" rx="4.4" ry="3.7"/><ellipse cx="490.47" cy="427.25" rx="4.4" ry="3.7"/><ellipse cx="490.9" cy="427.48" rx="4.4" ry="3.7"/><ellipse cx="491.33" cy="427.7" rx="4.4" ry="3.7"/><ellipse cx="491.76" cy="427.93" rx="4.4" ry="3.7"/><ellipse cx="492.19" cy="428.16" rx="4.4" ry="3.7"/><ellipse cx="492.62" cy="428.4" rx="4.4" ry="3.7"/><ellipse cx="493.05" cy="428.63" rx="4.4" ry="3.7"/><ellipse cx="493.48" cy="428.87" rx="4.4" ry="3.7"/><ellipse cx="493.91" cy="429.11" rx="4.4" ry="3.7"/><ellipse cx="494.34" cy="429.35" rx="4.4" ry="3.7"/><ellipse cx="494.77" cy="429.59" rx="4.4" ry="3.7"/><ellipse cx="495.2" cy="429.83" rx="4.4" ry="3.7"/><ellipse cx="495.63" cy="430.08" rx="4.4" ry="3.7"/><ellipse cx="496.06" cy="430.33" rx="4.4" ry="3.7"/><ellipse cx="496.49" cy="430.58" rx="4.4" ry="3.7"/><ellipse cx="496.92" cy="430.83" rx="4.4" ry="3.7"/><ellipse cx="497.35" cy="431.08" rx="4.4" ry="3.7"/><ellipse cx="497.78" cy="431.33" rx="4.4" ry="3.7"/><ellipse cx="498.21" cy="431.59" rx="4.4" ry="3.7"/><ellipse cx="498.64" cy="431.84" rx="4.4" ry="3.7"/><ellipse cx="499.07" cy="432.1" rx="4.4" ry="3.7"/><ellipse cx="499.5" cy="432.36" rx="4.4" ry="3.7"/><ellipse cx="499.93" cy="432.62" rx="4.4" ry="3.7"/><ellipse cx="500.36" cy="432.88" rx="4.4" ry="3.7"/><ellipse cx="500.79" cy="433.15" rx="4.4" ry="3.7"/><ellipse cx="501.22" cy="433.41" rx="4.4" ry="3.7"/><ellipse cx="501.65" cy="433.68" rx="4.4" ry="3.7"/><ellipse cx="502.08" cy="433.94" rx="4.4" ry="3.7"/><ellipse cx="502.51" cy="434.21" rx="4.4" ry="3.7"/><ellipse cx="502.94" cy="434.48" rx="4.4" ry="3.7"/><ellipse cx="503.37" cy="434.75" rx="4.4" ry="3.7"/><ellipse cx="503.8" cy="435.03" rx="4.4" ry="3.7"/><ellipse cx="504.23" cy="435.3" rx="4.4" ry="3.7"/><ellipse cx="504.66" cy="435.57" rx="4.4" ry="3.7"/><ellipse cx="505.09" cy="435.85" rx="4.4" ry="3.7"/><ellipse cx="505.52" cy="436.12" rx="4.4" ry="3.7"/><ellipse cx="505.95" cy="436.4" rx="4.4" ry="3.7"/><ellipse cx="506.38" cy="436.68" rx="4.4" ry="3.7"/><ellipse cx="506.81" cy="436.96" rx="4.4" ry="3.7"/><ellipse cx="507.24" cy="437.24" rx="4.4" ry="3.7"/><ellipse cx="507.67" cy="437.52" rx="4.4" ry="3.7"/><ellipse cx="508.11" cy="437.8" rx="4.4" ry="3.7"/><ellipse cx="508.54" cy="438.08" rx="4.4" ry="3.7"/><ellipse cx="508.97" cy="438.37" rx="4.4" ry="3.7"/><ellipse cx="509.4" cy="438.65" rx="4.4" ry="3.7"/><ellipse cx="509.83" cy="438.94" rx="4.4" ry="3.7"/><ellipse cx="510.26" cy="439.22" rx="4.4" ry="3.7"/><ellipse cx="510.69" cy="439.51" rx="4.4" ry="3.7"/><ellipse cx="511.12" cy="439.79" rx="4.4" ry="3.7"/><ellipse cx="511.55" cy="440.08" rx="4.4" ry="3.7"/><ellipse cx="511.98" cy="440.37" rx="4.4" ry="3.7"/><ellipse cx="512.41" cy="440.66" rx="4.4" ry="3.7"/><ellipse cx="512.84" cy="440.95" rx="4.4" ry="3.7"/><ellipse cx="513.27" cy="441.24" rx="4.4" ry="3.7"/><ellipse cx="513.7" cy="441.53" rx="4.4" ry="3.7"/><ellipse cx="514.13" cy="441.82" rx="4.4" ry="3.7"/><ellipse cx="514.56" cy="442.11" rx="4.4" ry="3.7"/><ellipse cx="514.99" cy="442.4" rx="4.4" ry="3.7"/><ellipse cx="515.42" cy="442.69" rx="4.4" ry="3.7"/><ellipse cx="515.85" cy="442.98" rx="4.4" ry="3.7"/><ellipse cx="516.28" cy="443.28" rx="4.4" ry="3.7"/><ellipse cx="516.71" cy="443.57" rx="4.4" ry="3.7"/><ellipse cx="517.14" cy="443.86" rx="4.4" ry="3.7"/><ellipse cx="517.57" cy="444.16" rx="4.4" ry="3.7"/><ellipse cx="518" cy="444.45" rx="4.4" ry="3.7"/><ellipse cx="518.43" cy="444.74" rx="4.4" ry="3.7"/><ellipse cx="518.86" cy="445.04" rx="4.4" ry="3.7"/><ellipse cx="519.29" cy="445.33" rx="4.4" ry="3.7"/><ellipse cx="519.72" cy="445.62" rx="4.4" ry="3.7"/><ellipse cx="520.15" cy="445.92" rx="4.4" ry="3.7"/><ellipse cx="520.58" cy="446.21" rx="4.4" ry="3.7"/><ellipse cx="521.01" cy="446.51" rx="4.4" ry="3.7"/><ellipse cx="521.44" cy="446.8" rx="4.4" ry="3.7"/><ellipse cx="521.87" cy="447.1" rx="4.4" ry="3.7"/><ellipse cx="522.3" cy="447.39" rx="4.4" ry="3.7"/><ellipse cx="522.73" cy="447.68" rx="4.4" ry="3.7"/><ellipse cx="523.16" cy="447.98" rx="4.4" ry="3.7"/><ellipse cx="523.59" cy="448.27" rx="4.4" ry="3.7"/><ellipse cx="524.02" cy="448.56" rx="4.4" ry="3.7"/><ellipse cx="524.45" cy="448.86" rx="4.4" ry="3.7"/><ellipse cx="524.88" cy="449.15" rx="4.4" ry="3.7"/><ellipse cx="525.31" cy="449.44" rx="4.4" ry="3.7"/><ellipse cx="525.74" cy="449.74" rx="4.4" ry="3.7"/><ellipse cx="526.17" cy="450.03" rx="4.4" ry="3.7"/><ellipse cx="526.6" cy="450.32" rx="4.4" ry="3.7"/><ellipse cx="527.03" cy="450.61" rx="4.4" ry="3.7"/><ellipse cx="527.46" cy="450.9" rx="4.4" ry="3.7"/><ellipse cx="527.89" cy="451.19" rx="4.4" ry="3.7"/><ellipse cx="528.32" cy="451.48" rx="4.4" ry="3.7"/><ellipse cx="528.75" cy="451.77" rx="4.4" ry="3.7"/><ellipse cx="529.18" cy="452.06" rx="4.4" ry="3.7"/><ellipse cx="529.61" cy="452.35" rx="4.4" ry="3.7"/><ellipse cx="530.04" cy="452.64" rx="4.4" ry="3.7"/><ellipse cx="530.47" cy="452.92" rx="4.4" ry="3.7"/><ellipse cx="530.9" cy="453.21" rx="4.4" ry="3.7"/><ellipse cx="531.33" cy="453.5" rx="4.4" ry="3.7"/><ellipse cx="531.76" cy="453.78" rx="4.4" ry="3.7"/><ellipse cx="532.19" cy="454.07" rx="4.4" ry="3.7"/><ellipse cx="532.62" cy="454.35" rx="4.4" ry="3.7"/><ellipse cx="533.05" cy="454.63" rx="4.4" ry="3.7"/><ellipse cx="533.48" cy="454.92" rx="4.4" ry="3.7"/><ellipse cx="533.91" cy="455.2" rx="4.4" ry="3.7"/><ellipse cx="534.34" cy="455.48" rx="4.4" ry="3.7"/><ellipse cx="534.78" cy="455.76" rx="4.4" ry="3.7"/><ellipse cx="535.21" cy="456.04" rx="4.4" ry="3.7"/><ellipse cx="535.64" cy="456.31" rx="4.4" ry="3.7"/><ellipse cx="536.07" cy="456.59" rx="4.4" ry="3.7"/><ellipse cx="536.5" cy="456.87" rx="4.4" ry="3.7"/><ellipse cx="536.93" cy="457.14" rx="4.4" ry="3.7"/><ellipse cx="537.36" cy="457.41" rx="4.4" ry="3.7"/><ellipse cx="537.79" cy="457.69" rx="4.4" ry="3.7"/><ellipse cx="538.22" cy="457.96" rx="4.4" ry="3.7"/><ellipse cx="538.65" cy="458.23" rx="4.4" ry="3.7"/><ellipse cx="539.08" cy="458.5" rx="4.4" ry="3.7"/><ellipse cx="539.51" cy="458.77" rx="4.4" ry="3.7"/><ellipse cx="539.94" cy="459.03" rx="4.4" ry="3.7"/><ellipse cx="540.37" cy="459.3" rx="4.4" ry="3.7"/><ellipse cx="540.8" cy="459.56" rx="4.4" ry="3.7"/><ellipse cx="541.23" cy="459.83" rx="4.4" ry="3.7"/><ellipse cx="541.66" cy="460.09" rx="4.4" ry="3.7"/><ellipse cx="542.09" cy="460.35" rx="4.4" ry="3.7"/><ellipse cx="542.52" cy="460.61" rx="4.4" ry="3.7"/><ellipse cx="542.95" cy="460.86" rx="4.4" ry="3.7"/><ellipse cx="543.38" cy="461.12" rx="4.4" ry="3.7"/><ellipse cx="543.81" cy="461.38" rx="4.4" ry="3.7"/><ellipse cx="544.24" cy="461.63" rx="4.4" ry="3.7"/><ellipse cx="544.67" cy="461.88" rx="4.4" ry="3.7"/><ellipse cx="545.1" cy="462.14" rx="4.4" ry="3.7"/><ellipse cx="545.53" cy="462.39" rx="4.4" ry="3.7"/><ellipse cx="545.96" cy="462.64" rx="4.4" ry="3.7"/><ellipse cx="546.39" cy="462.88" rx="4.4" ry="3.7"/><ellipse cx="546.82" cy="463.13" rx="4.4" ry="3.7"/><ellipse cx="547.25" cy="463.38" rx="4.4" ry="3.7"/><ellipse cx="547.68" cy="463.62" rx="4.4" ry="3.7"/><ellipse cx="548.11" cy="463.86" rx="4.4" ry="3.7"/><ellipse cx="548.54" cy="464.1" rx="4.4" ry="3.7"/><ellipse cx="548.97" cy="464.34" rx="4.4" ry="3.7"/><ellipse cx="549.4" cy="464.58" rx="4.4" ry="3.7"/><ellipse cx="549.83" cy="464.82" rx="4.4" ry="3.7"/><ellipse cx="550.26" cy="465.06" rx="4.4" ry="3.7"/><ellipse cx="550.69" cy="465.29" rx="4.4" ry="3.7"/><ellipse cx="551.12" cy="465.53" rx="4.4" ry="3.7"/><ellipse cx="551.55" cy="465.76" rx="4.4" ry="3.7"/><ellipse cx="551.98" cy="465.99" rx="4.4" ry="3.7"/><ellipse cx="552.41" cy="466.22" rx="4.4" ry="3.7"/><ellipse cx="552.84" cy="466.45" rx="4.4" ry="3.7"/><ellipse cx="553.27" cy="466.68" rx="4.4" ry="3.7"/><ellipse cx="553.7" cy="466.91" rx="4.4" ry="3.7"/><ellipse cx="554.13" cy="467.13" rx="4.4" ry="3.7"/><ellipse cx="554.56" cy="467.36" rx="4.4" ry="3.7"/><ellipse cx="554.99" cy="467.58" rx="4.4" ry="3.7"/><ellipse cx="555.42" cy="467.8" rx="4.4" ry="3.7"/><ellipse cx="555.85" cy="468.03" rx="4.4" ry="3.7"/><ellipse cx="556.28" cy="468.24" rx="4.4" ry="3.7"/><ellipse cx="556.71" cy="468.46" rx="4.4" ry="3.7"/><ellipse cx="557.14" cy="468.68" rx="4.4" ry="3.7"/><ellipse cx="557.57" cy="468.9" rx="4.4" ry="3.7"/><ellipse cx="558" cy="469.11" rx="4.4" ry="3.7"/><ellipse cx="558.43" cy="469.32" rx="4.4" ry="3.7"/><ellipse cx="558.86" cy="469.54" rx="4.4" ry="3.7"/><ellipse cx="559.29" cy="469.75" rx="4.4" ry="3.7"/><ellipse cx="559.72" cy="469.96" rx="4.4" ry="3.7"/><ellipse cx="560.15" cy="470.17" rx="4.4" ry="3.7"/><ellipse cx="560.58" cy="470.37" rx="4.4" ry="3.7"/><ellipse cx="561.02" cy="470.58" rx="4.4" ry="3.7"/><ellipse cx="561.45" cy="470.78" rx="4.4" ry="3.7"/><ellipse cx="561.88" cy="470.99" rx="4.4" ry="3.7"/><ellipse cx="562.31" cy="471.19" rx="4.4" ry="3.7"/><ellipse cx="562.74" cy="471.39" rx="4.4" ry="3.7"/><ellipse cx="563.17" cy="471.59" rx="4.4" ry="3.7"/><ellipse cx="563.6" cy="471.79" rx="4.4" ry="3.7"/><ellipse cx="564.03" cy="471.99" rx="4.4" ry="3.7"/><ellipse cx="564.46" cy="472.19" rx="4.4" ry="3.7"/><ellipse cx="564.89" cy="472.38" rx="4.4" ry="3.7"/><ellipse cx="565.32" cy="472.58" rx="4.4" ry="3.7"/><ellipse cx="565.75" cy="472.77" rx="4.4" ry="3.7"/><ellipse cx="566.18" cy="472.96" rx="4.4" ry="3.7"/><ellipse cx="566.61" cy="473.15" rx="4.4" ry="3.7"/><ellipse cx="567.04" cy="473.34" rx="4.4" ry="3.7"/><ellipse cx="567.47" cy="473.53" rx="4.4" ry="3.7"/><ellipse cx="567.9" cy="473.72" rx="4.4" ry="3.7"/><ellipse cx="568.33" cy="473.9" rx="4.4" ry="3.7"/><ellipse cx="568.76" cy="474.09" rx="4.4" ry="3.7"/><ellipse cx="569.19" cy="474.27" rx="4.4" ry="3.7"/><ellipse cx="569.62" cy="474.45" rx="4.4" ry="3.7"/><ellipse cx="570.05" cy="474.63" rx="4.4" ry="3.7"/><ellipse cx="570.48" cy="474.81" rx="4.4" ry="3.7"/><ellipse cx="570.91" cy="474.99" rx="4.4" ry="3.7"/><ellipse cx="571.34" cy="475.17" rx="4.4" ry="3.7"/><ellipse cx="571.77" cy="475.34" rx="4.4" ry="3.7"/><ellipse cx="572.2" cy="475.52" rx="4.4" ry="3.7"/><ellipse cx="572.63" cy="475.69" rx="4.4" ry="3.7"/><ellipse cx="573.06" cy="475.87" rx="4.4" ry="3.7"/><ellipse cx="573.49" cy="476.04" rx="4.4" ry="3.7"/><ellipse cx="573.92" cy="476.21" rx="4.4" ry="3.7"/><ellipse cx="574.35" cy="476.38" rx="4.4" ry="3.7"/><ellipse cx="574.78" cy="476.55" rx="4.4" ry="3.7"/><ellipse cx="575.21" cy="476.71" rx="4.4" ry="3.7"/><ellipse cx="575.64" cy="476.88" rx="4.4" ry="3.7"/><ellipse cx="576.07" cy="477.04" rx="4.4" ry="3.7"/><ellipse cx="576.5" cy="477.21" rx="4.4" ry="3.7"/><ellipse cx="576.93" cy="477.37" rx="4.4" ry="3.7"/><ellipse cx="577.36" cy="477.53" rx="4.4" ry="3.7"/><ellipse cx="577.79" cy="477.69" rx="4.4" ry="3.7"/><ellipse cx="578.22" cy="477.85" rx="4.4" ry="3.7"/><ellipse cx="578.65" cy="478" rx="4.4" ry="3.7"/><ellipse cx="579.08" cy="478.16" rx="4.4" ry="3.7"/><ellipse cx="579.51" cy="478.32" rx="4.4" ry="3.7"/><ellipse cx="579.94" cy="478.47" rx="4.4" ry="3.7"/><ellipse cx="580.37" cy="478.62" rx="4.4" ry="3.7"/><ellipse cx="580.8" cy="478.77" rx="4.4" ry="3.7"/><ellipse cx="581.23" cy="478.92" rx="4.4" ry="3.7"/><ellipse cx="581.66" cy="479.07" rx="4.4" ry="3.7"/><ellipse cx="582.09" cy="479.22" rx="4.4" ry="3.7"/><ellipse cx="582.52" cy="479.37" rx="4.4" ry="3.7"/><ellipse cx="582.95" cy="479.51" rx="4.4" ry="3.7"/><ellipse cx="583.38" cy="479.66" rx="4.4" ry="3.7"/><ellipse cx="583.81" cy="479.8" rx="4.4" ry="3.7"/><ellipse cx="584.24" cy="479.94" rx="4.4" ry="3.7"/><ellipse cx="584.67" cy="480.09" rx="4.4" ry="3.7"/><ellipse cx="585.1" cy="480.23" rx="4.4" ry="3.7"/><ellipse cx="585.53" cy="480.36" rx="4.4" ry="3.7"/><ellipse cx="585.96" cy="480.5" rx="4.4" ry="3.7"/><ellipse cx="586.39" cy="480.64" rx="4.4" ry="3.7"/><ellipse cx="586.82" cy="480.77" rx="4.4" ry="3.7"/><ellipse cx="587.26" cy="480.91" rx="4.4" ry="3.7"/><ellipse cx="587.69" cy="481.04" rx="4.4" ry="3.7"/><ellipse cx="588.12" cy="481.17" rx="4.4" ry="3.7"/><ellipse cx="588.55" cy="481.3" rx="4.4" ry="3.7"/><ellipse cx="588.98" cy="481.43" rx="4.4" ry="3.7"/><ellipse cx="589.41" cy="481.56" rx="4.4" ry="3.7"/><ellipse cx="589.84" cy="481.69" rx="4.4" ry="3.7"/><ellipse cx="590.27" cy="481.82" rx="4.4" ry="3.7"/><ellipse cx="590.7" cy="481.94" rx="4.4" ry="3.7"/><ellipse cx="591.13" cy="482.06" rx="4.4" ry="3.7"/><ellipse cx="591.56" cy="482.19" rx="4.4" ry="3.7"/><ellipse cx="591.99" cy="482.31" rx="4.4" ry="3.7"/><ellipse cx="592.42" cy="482.43" rx="4.4" ry="3.7"/><ellipse cx="592.85" cy="482.55" rx="4.4" ry="3.7"/><ellipse cx="593.28" cy="482.67" rx="4.4" ry="3.7"/><ellipse cx="593.71" cy="482.78" rx="4.4" ry="3.7"/><ellipse cx="594.14" cy="482.9" rx="4.4" ry="3.7"/><ellipse cx="594.57" cy="483.01" rx="4.4" ry="3.7"/><ellipse cx="595" cy="483.13" rx="4.4" ry="3.7"/><ellipse cx="595.43" cy="483.24" rx="4.4" ry="3.7"/><ellipse cx="595.86" cy="483.35" rx="4.4" ry="3.7"/><ellipse cx="596.29" cy="483.46" rx="4.4" ry="3.7"/><ellipse cx="596.72" cy="483.57" rx="4.4" ry="3.7"/><ellipse cx="597.15" cy="483.68" rx="4.4" ry="3.7"/><ellipse cx="597.58" cy="483.79" rx="4.4" ry="3.7"/><ellipse cx="598.01" cy="483.89" rx="4.4" ry="3.7"/><ellipse cx="598.44" cy="484" rx="4.4" ry="3.7"/><ellipse cx="598.87" cy="484.1" rx="4.4" ry="3.7"/><ellipse cx="599.3" cy="484.2" rx="4.4" ry="3.7"/><ellipse cx="599.73" cy="484.3" rx="4.4" ry="3.7"/><ellipse cx="600.16" cy="484.4" rx="4.4" ry="3.7"/><ellipse cx="600.59" cy="484.5" rx="4.4" ry="3.7"/><ellipse cx="601.02" cy="484.6" rx="4.4" ry="3.7"/><ellipse cx="601.45" cy="484.7" rx="4.4" ry="3.7"/><ellipse cx="601.88" cy="484.79" rx="4.4" ry="3.7"/><ellipse cx="602.31" cy="484.89" rx="4.4" ry="3.7"/><ellipse cx="602.74" cy="484.98" rx="4.4" ry="3.7"/><ellipse cx="603.17" cy="485.07" rx="4.4" ry="3.7"/><ellipse cx="603.6" cy="485.16" rx="4.4" ry="3.7"/><ellipse cx="604.03" cy="485.25" rx="4.4" ry="3.7"/><ellipse cx="604.46" cy="485.34" rx="4.4" ry="3.7"/><ellipse cx="604.89" cy="485.43" rx="4.4" ry="3.7"/><ellipse cx="605.32" cy="485.52" rx="4.4" ry="3.7"/><ellipse cx="605.75" cy="485.6" rx="4.4" ry="3.7"/><ellipse cx="606.18" cy="485.68" rx="4.4" ry="3.7"/><ellipse cx="606.61" cy="485.77" rx="4.4" ry="3.7"/><ellipse cx="607.04" cy="485.85" rx="4.4" ry="3.7"/><ellipse cx="607.47" cy="485.93" rx="4.4" ry="3.7"/><ellipse cx="607.9" cy="486" rx="4.4" ry="3.7"/><ellipse cx="608.33" cy="486.08" rx="4.4" ry="3.7"/><ellipse cx="608.76" cy="486.16" rx="4.4" ry="3.7"/><ellipse cx="609.19" cy="486.23" rx="4.4" ry="3.7"/><ellipse cx="609.62" cy="486.3" rx="4.4" ry="3.7"/><ellipse cx="610.05" cy="486.38" rx="4.4" ry="3.7"/><ellipse cx="610.48" cy="486.45" rx="4.4" ry="3.7"/><ellipse cx="610.91" cy="486.51" rx="4.4" ry="3.7"/><ellipse cx="611.34" cy="486.58" rx="4.4" ry="3.7"/><ellipse cx="611.77" cy="486.65" rx="4.4" ry="3.7"/><ellipse cx="612.2" cy="486.71" rx="4.4" ry="3.7"/><ellipse cx="612.63" cy="486.78" rx="4.4" ry="3.7"/><ellipse cx="613.06" cy="486.84" rx="4.4" ry="3.7"/><ellipse cx="613.5" cy="486.9" rx="4.4" ry="3.7"/><ellipse cx="613.93" cy="486.96" rx="4.4" ry="3.7"/><ellipse cx="614.36" cy="487.01" rx="4.4" ry="3.7"/><ellipse cx="614.79" cy="487.07" rx="4.4" ry="3.7"/><ellipse cx="615.22" cy="487.12" rx="4.4" ry="3.7"/><ellipse cx="615.65" cy="487.18" rx="4.4" ry="3.7"/><ellipse cx="616.08" cy="487.23" rx="4.4" ry="3.7"/><ellipse cx="616.51" cy="487.28" rx="4.4" ry="3.7"/><ellipse cx="616.94" cy="487.33" rx="4.4" ry="3.7"/><ellipse cx="617.37" cy="487.37" rx="4.4" ry="3.7"/><ellipse cx="617.8" cy="487.42" rx="4.4" ry="3.7"/><ellipse cx="618.23" cy="487.46" rx="4.4" ry="3.7"/><ellipse cx="618.66" cy="487.5" rx="4.4" ry="3.7"/><ellipse cx="619.09" cy="487.54" rx="4.4" ry="3.7"/><ellipse cx="619.52" cy="487.58" rx="4.4" ry="3.7"/><ellipse cx="619.95" cy="487.62" rx="4.4" ry="3.7"/><ellipse cx="620.38" cy="487.65" rx="4.4" ry="3.7"/><ellipse cx="620.81" cy="487.69" rx="4.4" ry="3.7"/><ellipse cx="621.24" cy="487.72" rx="4.4" ry="3.7"/><ellipse cx="621.67" cy="487.75" rx="4.4" ry="3.7"/><ellipse cx="622.1" cy="487.78" rx="4.4" ry="3.7"/><ellipse cx="622.53" cy="487.81" rx="4.4" ry="3.7"/><ellipse cx="622.96" cy="487.83" rx="4.4" ry="3.7"/><ellipse cx="623.39" cy="487.86" rx="4.4" ry="3.7"/><ellipse cx="623.82" cy="487.88" rx="4.4" ry="3.7"/><ellipse cx="624.25" cy="487.9" rx="4.4" ry="3.7"/><ellipse cx="624.68" cy="487.92" rx="4.4" ry="3.7"/><ellipse cx="625.11" cy="487.93" rx="4.4" ry="3.7"/><ellipse cx="625.54" cy="487.95" rx="4.4" ry="3.7"/><ellipse cx="625.97" cy="487.96" rx="4.4" ry="3.7"/><ellipse cx="626.4" cy="487.97" rx="4.4" ry="3.7"/><ellipse cx="626.83" cy="487.98" rx="4.4" ry="3.7"/><ellipse cx="627.26" cy="487.99" rx="4.4" ry="3.7"/><ellipse cx="627.69" cy="488" rx="4.4" ry="3.7"/><ellipse cx="628.12" cy="488" rx="4.4" ry="3.7"/><ellipse cx="628.55" cy="488" rx="4.4" ry="3.7"/><ellipse cx="628.98" cy="488" rx="4.4" ry="3.7"/><ellipse cx="629.41" cy="488" rx="4.4" ry="3.7"/><ellipse cx="629.84" cy="488" rx="4.4" ry="3.7"/><ellipse cx="630.27" cy="487.99" rx="4.4" ry="3.7"/><ellipse cx="630.7" cy="487.99" rx="4.4" ry="3.7"/><ellipse cx="631.13" cy="487.98" rx="4.4" ry="3.7"/><ellipse cx="631.56" cy="487.97" rx="4.4" ry="3.7"/><ellipse cx="631.99" cy="487.95" rx="4.4" ry="3.7"/><ellipse cx="632.42" cy="487.94" rx="4.4" ry="3.7"/><ellipse cx="632.85" cy="487.92" rx="4.4" ry="3.7"/><ellipse cx="633.28" cy="487.9" rx="4.4" ry="3.7"/><ellipse cx="633.71" cy="487.88" rx="4.4" ry="3.7"/><ellipse cx="634.14" cy="487.86" rx="4.4" ry="3.7"/><ellipse cx="634.57" cy="487.84" rx="4.4" ry="3.7"/><ellipse cx="635" cy="487.81" rx="4.4" ry="3.7"/><ellipse cx="635.43" cy="487.78" rx="4.4" ry="3.7"/><ellipse cx="635.86" cy="487.75" rx="4.4" ry="3.7"/><ellipse cx="636.29" cy="487.72" rx="4.4" ry="3.7"/><ellipse cx="636.72" cy="487.68" rx="4.4" ry="3.7"/><ellipse cx="637.15" cy="487.65" rx="4.4" ry="3.7"/><ellipse cx="637.58" cy="487.61" rx="4.4" ry="3.7"/><ellipse cx="638.01" cy="487.57" rx="4.4" ry="3.7"/><ellipse cx="638.44" cy="487.52" rx="4.4" ry="3.7"/><ellipse cx="638.87" cy="487.48" rx="4.4" ry="3.7"/><ellipse cx="639.3" cy="487.43" rx="4.4" ry="3.7"/><ellipse cx="639.73" cy="487.38" rx="4.4" ry="3.7"/><ellipse cx="640.17" cy="487.33" rx="4.4" ry="3.7"/><ellipse cx="640.6" cy="487.28" rx="4.4" ry="3.7"/><ellipse cx="641.03" cy="487.22" rx="4.4" ry="3.7"/><ellipse cx="641.46" cy="487.16" rx="4.4" ry="3.7"/><ellipse cx="641.89" cy="487.1" rx="4.4" ry="3.7"/><ellipse cx="642.32" cy="487.04" rx="4.4" ry="3.7"/><ellipse cx="642.75" cy="486.98" rx="4.4" ry="3.7"/><ellipse cx="643.18" cy="486.91" rx="4.4" ry="3.7"/><ellipse cx="643.61" cy="486.84" rx="4.4" ry="3.7"/><ellipse cx="644.04" cy="486.77" rx="4.4" ry="3.7"/><ellipse cx="644.47" cy="486.7" rx="4.4" ry="3.7"/><ellipse cx="644.9" cy="486.62" rx="4.4" ry="3.7"/><ellipse cx="645.33" cy="486.54" rx="4.4" ry="3.7"/><ellipse cx="645.76" cy="486.46" rx="4.4" ry="3.7"/><ellipse cx="646.19" cy="486.38" rx="4.4" ry="3.7"/><ellipse cx="646.62" cy="486.3" rx="4.4" ry="3.7"/><ellipse cx="647.05" cy="486.21" rx="4.4" ry="3.7"/><ellipse cx="647.47" cy="486.12" rx="4.4" ry="3.7"/><ellipse cx="647.9" cy="486.03" rx="4.4" ry="3.7"/><ellipse cx="648.32" cy="485.94" rx="4.4" ry="3.7"/><ellipse cx="648.74" cy="485.84" rx="4.4" ry="3.7"/><ellipse cx="649.16" cy="485.75" rx="4.4" ry="3.7"/><ellipse cx="649.58" cy="485.65" rx="4.4" ry="3.7"/><ellipse cx="649.99" cy="485.55" rx="4.4" ry="3.7"/><ellipse cx="650.41" cy="485.45" rx="4.4" ry="3.7"/><ellipse cx="650.82" cy="485.34" rx="4.4" ry="3.7"/><ellipse cx="651.22" cy="485.24" rx="4.4" ry="3.7"/><ellipse cx="651.63" cy="485.13" rx="4.4" ry="3.7"/><ellipse cx="652.03" cy="485.03" rx="4.4" ry="3.7"/><ellipse cx="652.44" cy="484.92" rx="4.4" ry="3.7"/><ellipse cx="652.84" cy="484.81" rx="4.4" ry="3.7"/><ellipse cx="653.23" cy="484.69" rx="4.4" ry="3.7"/><ellipse cx="653.63" cy="484.58" rx="4.4" ry="3.7"/><ellipse cx="654.02" cy="484.46" rx="4.4" ry="3.7"/><ellipse cx="654.41" cy="484.35" rx="4.4" ry="3.7"/><ellipse cx="654.8" cy="484.23" rx="4.4" ry="3.7"/><ellipse cx="655.19" cy="484.11" rx="4.4" ry="3.7"/><ellipse cx="655.57" cy="483.99" rx="4.4" ry="3.7"/><ellipse cx="655.96" cy="483.87" rx="4.4" ry="3.7"/><ellipse cx="656.34" cy="483.74" rx="4.4" ry="3.7"/><ellipse cx="656.71" cy="483.62" rx="4.4" ry="3.7"/><ellipse cx="657.09" cy="483.49" rx="4.4" ry="3.7"/><ellipse cx="657.47" cy="483.36" rx="4.4" ry="3.7"/><ellipse cx="657.84" cy="483.23" rx="4.4" ry="3.7"/><ellipse cx="658.21" cy="483.1" rx="4.4" ry="3.7"/><ellipse cx="658.58" cy="482.97" rx="4.4" ry="3.7"/><ellipse cx="658.94" cy="482.84" rx="4.4" ry="3.7"/><ellipse cx="659.3" cy="482.71" rx="4.4" ry="3.7"/><ellipse cx="659.67" cy="482.57" rx="4.4" ry="3.7"/><ellipse cx="660.03" cy="482.44" rx="4.4" ry="3.7"/><ellipse cx="660.38" cy="482.3" rx="4.4" ry="3.7"/><ellipse cx="660.74" cy="482.16" rx="4.4" ry="3.7"/><ellipse cx="661.09" cy="482.02" rx="4.4" ry="3.7"/><ellipse cx="661.44" cy="481.88" rx="4.4" ry="3.7"/><ellipse cx="661.79" cy="481.74" rx="4.4" ry="3.7"/><ellipse cx="662.14" cy="481.6" rx="4.4" ry="3.7"/><ellipse cx="662.48" cy="481.46" rx="4.4" ry="3.7"/><ellipse cx="662.82" cy="481.32" rx="4.4" ry="3.7"/><ellipse cx="663.16" cy="481.17" rx="4.4" ry="3.7"/><ellipse cx="663.5" cy="481.03" rx="4.4" ry="3.7"/><ellipse cx="663.84" cy="480.88" rx="4.4" ry="3.7"/><ellipse cx="664.17" cy="480.74" rx="4.4" ry="3.7"/><ellipse cx="664.5" cy="480.59" rx="4.4" ry="3.7"/><ellipse cx="664.83" cy="480.44" rx="4.4" ry="3.7"/><ellipse cx="665.16" cy="480.29" rx="4.4" ry="3.7"/><ellipse cx="665.49" cy="480.14" rx="4.4" ry="3.7"/><ellipse cx="665.81" cy="479.99" rx="4.4" ry="3.7"/><ellipse cx="666.13" cy="479.84" rx="4.4" ry="3.7"/><ellipse cx="666.45" cy="479.69" rx="4.4" ry="3.7"/><ellipse cx="666.77" cy="479.54" rx="4.4" ry="3.7"/><ellipse cx="667.08" cy="479.39" rx="4.4" ry="3.7"/><ellipse cx="667.39" cy="479.23" rx="4.4" ry="3.7"/><ellipse cx="667.71" cy="479.08" rx="4.4" ry="3.7"/><ellipse cx="668.01" cy="478.93" rx="4.4" ry="3.7"/><ellipse cx="668.32" cy="478.77" rx="4.4" ry="3.7"/><ellipse cx="668.62" cy="478.62" rx="4.4" ry="3.7"/><ellipse cx="668.93" cy="478.46" rx="4.4" ry="3.7"/><ellipse cx="669.23" cy="478.31" rx="4.4" ry="3.7"/><ellipse cx="669.52" cy="478.15" rx="4.4" ry="3.7"/><ellipse cx="669.82" cy="478" rx="4.4" ry="3.7"/><ellipse cx="670.11" cy="477.84" rx="4.4" ry="3.7"/><ellipse cx="670.4" cy="477.68" rx="4.4" ry="3.7"/><ellipse cx="670.69" cy="477.53" rx="4.4" ry="3.7"/><ellipse cx="670.98" cy="477.37" rx="4.4" ry="3.7"/><ellipse cx="671.27" cy="477.21" rx="4.4" ry="3.7"/><ellipse cx="671.55" cy="477.05" rx="4.4" ry="3.7"/><ellipse cx="671.83" cy="476.9" rx="4.4" ry="3.7"/><ellipse cx="672.11" cy="476.74" rx="4.4" ry="3.7"/><ellipse cx="672.39" cy="476.58" rx="4.4" ry="3.7"/><ellipse cx="672.66" cy="476.42" rx="4.4" ry="3.7"/><ellipse cx="672.93" cy="476.26" rx="4.4" ry="3.7"/><ellipse cx="673.2" cy="476.11" rx="4.4" ry="3.7"/><ellipse cx="673.47" cy="475.95" rx="4.4" ry="3.7"/><ellipse cx="673.74" cy="475.79" rx="4.4" ry="3.7"/><ellipse cx="674" cy="475.63" rx="4.4" ry="3.7"/><ellipse cx="674.26" cy="475.47" rx="4.4" ry="3.7"/><ellipse cx="674.52" cy="475.32" rx="4.4" ry="3.7"/><ellipse cx="674.78" cy="475.16" rx="4.4" ry="3.7"/><ellipse cx="675.04" cy="475" rx="4.4" ry="3.7"/><ellipse cx="675.29" cy="474.84" rx="4.4" ry="3.7"/><ellipse cx="675.54" cy="474.69" rx="4.4" ry="3.7"/><ellipse cx="675.79" cy="474.53" rx="4.4" ry="3.7"/><ellipse cx="676.04" cy="474.37" rx="4.4" ry="3.7"/><ellipse cx="676.28" cy="474.22" rx="4.4" ry="3.7"/><ellipse cx="676.52" cy="474.06" rx="4.4" ry="3.7"/><ellipse cx="676.76" cy="473.9" rx="4.4" ry="3.7"/><ellipse cx="677" cy="473.75" rx="4.4" ry="3.7"/><ellipse cx="677.24" cy="473.59" rx="4.4" ry="3.7"/><ellipse cx="677.47" cy="473.44" rx="4.4" ry="3.7"/><ellipse cx="677.71" cy="473.29" rx="4.4" ry="3.7"/><ellipse cx="677.94" cy="473.13" rx="4.4" ry="3.7"/><ellipse cx="678.16" cy="472.98" rx="4.4" ry="3.7"/><ellipse cx="678.39" cy="472.83" rx="4.4" ry="3.7"/><ellipse cx="678.61" cy="472.67" rx="4.4" ry="3.7"/><ellipse cx="678.84" cy="472.52" rx="4.4" ry="3.7"/><ellipse cx="679.05" cy="472.37" rx="4.4" ry="3.7"/><ellipse cx="679.27" cy="472.22" rx="4.4" ry="3.7"/><ellipse cx="679.49" cy="472.07" rx="4.4" ry="3.7"/><ellipse cx="679.7" cy="471.92" rx="4.4" ry="3.7"/><ellipse cx="679.91" cy="471.77" rx="4.4" ry="3.7"/><ellipse cx="680.12" cy="471.62" rx="4.4" ry="3.7"/><ellipse cx="680.33" cy="471.48" rx="4.4" ry="3.7"/><ellipse cx="680.53" cy="471.33" rx="4.4" ry="3.7"/><ellipse cx="680.73" cy="471.19" rx="4.4" ry="3.7"/><ellipse cx="680.93" cy="471.04" rx="4.4" ry="3.7"/><ellipse cx="681.13" cy="470.9" rx="4.4" ry="3.7"/><ellipse cx="681.33" cy="470.75" rx="4.4" ry="3.7"/><ellipse cx="681.52" cy="470.61" rx="4.4" ry="3.7"/><ellipse cx="681.71" cy="470.47" rx="4.4" ry="3.7"/><ellipse cx="681.9" cy="470.33" rx="4.4" ry="3.7"/><ellipse cx="682.09" cy="470.19" rx="4.4" ry="3.7"/><ellipse cx="682.28" cy="470.05" rx="4.4" ry="3.7"/><ellipse cx="682.46" cy="469.91" rx="4.4" ry="3.7"/><ellipse cx="682.64" cy="469.77" rx="4.4" ry="3.7"/><ellipse cx="682.82" cy="469.64" rx="4.4" ry="3.7"/><ellipse cx="683" cy="469.5" rx="4.4" ry="3.7"/><ellipse cx="683.17" cy="469.37" rx="4.4" ry="3.7"/><ellipse cx="683.35" cy="469.24" rx="4.4" ry="3.7"/><ellipse cx="683.52" cy="469.1" rx="4.4" ry="3.7"/><ellipse cx="683.68" cy="468.97" rx="4.4" ry="3.7"/><ellipse cx="683.85" cy="468.84" rx="4.4" ry="3.7"/><ellipse cx="684.02" cy="468.71" rx="4.4" ry="3.7"/><ellipse cx="684.18" cy="468.59" rx="4.4" ry="3.7"/><ellipse cx="684.34" cy="468.46" rx="4.4" ry="3.7"/><ellipse cx="684.5" cy="468.34" rx="4.4" ry="3.7"/><ellipse cx="684.65" cy="468.21" rx="4.4" ry="3.7"/><ellipse cx="684.8" cy="468.09" rx="4.4" ry="3.7"/><ellipse cx="684.96" cy="467.97" rx="4.4" ry="3.7"/><ellipse cx="685.11" cy="467.85" rx="4.4" ry="3.7"/><ellipse cx="685.25" cy="467.73" rx="4.4" ry="3.7"/><ellipse cx="685.4" cy="467.61" rx="4.4" ry="3.7"/><ellipse cx="685.54" cy="467.5" rx="4.4" ry="3.7"/><ellipse cx="685.68" cy="467.38" rx="4.4" ry="3.7"/><ellipse cx="685.82" cy="467.27" rx="4.4" ry="3.7"/><ellipse cx="685.96" cy="467.15" rx="4.4" ry="3.7"/><ellipse cx="686.09" cy="467.04" rx="4.4" ry="3.7"/><ellipse cx="686.23" cy="466.93" rx="4.4" ry="3.7"/><ellipse cx="686.36" cy="466.83" rx="4.4" ry="3.7"/><ellipse cx="686.48" cy="466.72" rx="4.4" ry="3.7"/><ellipse cx="686.61" cy="466.61" rx="4.4" ry="3.7"/><ellipse cx="686.73" cy="466.51" rx="4.4" ry="3.7"/><ellipse cx="686.86" cy="466.41" rx="4.4" ry="3.7"/><ellipse cx="686.98" cy="466.31" rx="4.4" ry="3.7"/><ellipse cx="687.09" cy="466.21" rx="4.4" ry="3.7"/><ellipse cx="687.21" cy="466.11" rx="4.4" ry="3.7"/><ellipse cx="687.32" cy="466.01" rx="4.4" ry="3.7"/><ellipse cx="687.43" cy="465.92" rx="4.4" ry="3.7"/><ellipse cx="687.54" cy="465.83" rx="4.4" ry="3.7"/><ellipse cx="687.65" cy="465.74" rx="4.4" ry="3.7"/><ellipse cx="687.75" cy="465.65" rx="4.4" ry="3.7"/><ellipse cx="687.86" cy="465.56" rx="4.4" ry="3.7"/><ellipse cx="687.96" cy="465.47" rx="4.4" ry="3.7"/><ellipse cx="688.06" cy="465.39" rx="4.4" ry="3.7"/><ellipse cx="688.15" cy="465.3" rx="4.4" ry="3.7"/><ellipse cx="688.25" cy="465.22" rx="4.4" ry="3.7"/><ellipse cx="688.34" cy="465.14" rx="4.4" ry="3.7"/><ellipse cx="688.43" cy="465.06" rx="4.4" ry="3.7"/><ellipse cx="688.52" cy="464.98" rx="4.4" ry="3.7"/><ellipse cx="688.6" cy="464.91" rx="4.4" ry="3.7"/><ellipse cx="688.69" cy="464.84" rx="4.4" ry="3.7"/><ellipse cx="688.77" cy="464.76" rx="4.4" ry="3.7"/><ellipse cx="688.85" cy="464.69" rx="4.4" ry="3.7"/><ellipse cx="688.93" cy="464.63" rx="4.4" ry="3.7"/><ellipse cx="689" cy="464.56" rx="4.4" ry="3.7"/><ellipse cx="689.07" cy="464.5" rx="4.4" ry="3.7"/><ellipse cx="689.15" cy="464.43" rx="4.4" ry="3.7"/><ellipse cx="689.21" cy="464.37" rx="4.4" ry="3.7"/><ellipse cx="689.28" cy="464.31" rx="4.4" ry="3.7"/><ellipse cx="689.35" cy="464.25" rx="4.4" ry="3.7"/><ellipse cx="689.41" cy="464.2" rx="4.4" ry="3.7"/><ellipse cx="689.47" cy="464.15" rx="4.4" ry="3.7"/><ellipse cx="689.53" cy="464.09" rx="4.4" ry="3.7"/><ellipse cx="689.58" cy="464.04" rx="4.4" ry="3.7"/><ellipse cx="689.64" cy="463.99" rx="4.4" ry="3.7"/><ellipse cx="689.69" cy="463.95" rx="4.4" ry="3.7"/><ellipse cx="689.74" cy="463.9" rx="4.4" ry="3.7"/><ellipse cx="689.79" cy="463.86" rx="4.4" ry="3.7"/><ellipse cx="689.83" cy="463.82" rx="4.4" ry="3.7"/><ellipse cx="689.88" cy="463.78" rx="4.4" ry="3.7"/><ellipse cx="689.92" cy="463.74" rx="4.4" ry="3.7"/><ellipse cx="689.96" cy="463.71" rx="4.4" ry="3.7"/><ellipse cx="689.99" cy="463.67" rx="4.4" ry="3.7"/><ellipse cx="690.03" cy="463.64" rx="4.4" ry="3.7"/><ellipse cx="690.06" cy="463.61" rx="4.4" ry="3.7"/><ellipse cx="690.09" cy="463.58" rx="4.4" ry="3.7"/><ellipse cx="690.12" cy="463.56" rx="4.4" ry="3.7"/><ellipse cx="690.15" cy="463.53" rx="4.4" ry="3.7"/><ellipse cx="690.17" cy="463.51" rx="4.4" ry="3.7"/><ellipse cx="690.19" cy="463.49" rx="4.4" ry="3.7"/><ellipse cx="690.21" cy="463.47" rx="4.4" ry="3.7"/><ellipse cx="690.23" cy="463.46" rx="4.4" ry="3.7"/><ellipse cx="690.25" cy="463.44" rx="4.4" ry="3.7"/><ellipse cx="690.26" cy="463.43" rx="4.4" ry="3.7"/><ellipse cx="690.27" cy="463.42" rx="4.4" ry="3.7"/><ellipse cx="690.28" cy="463.41" rx="4.4" ry="3.7"/><ellipse cx="690.29" cy="463.4" rx="4.4" ry="3.7"/><ellipse cx="690.3" cy="463.4" rx="4.4" ry="3.7"/><ellipse cx="690.3" cy="463.4" rx="4.4" ry="3.7"/><circle cx="690.3" cy="463.4" r="4" stroke="#000" stroke-width="1"/></g>
<path d="M177.74 539.41h8.34M178.6 531.23h8.34M179.47 524.11h8.34M180.33 517.76h8.34M181.19 511.89h8.34M182.06 506.26h8.34M182.92 500.91h8.34M183.79 495.85h8.34M184.65 491.07h8.34M185.51 486.56h8.34M186.38 482.33h8.34M187.24 478.37h8.34M188.11 474.68h8.34M188.97 471.39h8.34M189.83 468.6h8.34M190.7 466.24h8.34M191.56 464.1h8.34M192.43 462.02h8.34M193.29 459.8h8.34M194.15 457.29h8.34M195.02 454.58h8.34M195.88 451.99h8.34M196.75 449.62h8.34M197.61 447.31h8.34M198.47 445.09h8.34M199.34 442.98h8.34M200.2 441.02h8.34M201.07 439.2h8.34M201.93 437.47h8.34M202.79 435.83h8.34M203.66 434.31h8.34M262.41 389.98h8.34M263.27 388.41h8.34M264.14 386.71h8.34M265 384.93h8.34M265.87 383.12h8.34M266.73 381.31h8.34M267.59 379.5h8.34M268.46 377.64h8.34M269.32 375.74h8.34M270.19 373.81h8.34M271.05 371.86h8.34M271.91 369.92h8.34M272.78 368.04h8.34M273.64 366.09h8.34M274.51 363.85h8.34M275.37 361.34h8.34M276.23 358.61h8.34M277.1 355.73h8.34M277.96 352.74h8.34M278.83 349.7h8.34M279.69 346.66h8.34M280.55 343.62h8.34M281.42 340.48h8.34M282.28 337.26h8.34M283.15 333.98h8.34M284.01 330.56h8.34M284.87 327.1h8.34M285.74 323.78h8.34M286.6 320.67h8.34M287.47 317.71h8.34M288.33 314.82h8.34M289.19 311.97h8.34M290.06 309.09h8.34M290.92 306.13h8.34M291.79 303.03h8.34M292.65 299.72h8.34M293.51 296.09h8.34M294.38 292.19h8.34M295.24 288.17h8.34M296.11 284.21h8.34M296.97 280.45h8.34M297.83 276.99h8.34M298.7 273.68h8.34M299.56 270.44h8.34M300.43 267.23h8.34M301.29 264.09h8.34M302.15 260.99h8.34M303.02 257.92h8.34M303.88 254.87h8.34M304.75 251.81h8.34M305.61 248.72h8.34M306.47 245.6h8.34M307.34 242.41h8.34M308.2 239.16h8.34M309.07 235.85h8.34M309.93 232.5h8.34M310.79 229.12h8.34M311.66 225.71h8.34M312.52 222.27h8.34M313.39 218.8h8.34M314.25 215.31h8.34M315.11 211.79h8.34M315.98 208.26h8.34M316.84 204.7h8.34M317.71 201.14h8.34M318.57 197.55h8.34M319.43 193.96h8.34M320.3 190.35h8.34M321.16 186.74h8.34M322.03 183.13h8.34M322.89 179.51h8.34M323.75 175.89h8.34M324.62 172.27h8.34M325.48 168.66h8.34M326.35 165.05h8.34M327.21 161.45h8.34M328.07 157.86h8.34M328.94 154.29h8.34M329.8 150.73h8.34M330.67 147.18h8.34M331.53 143.66h8.34M332.39 140.15h8.34" stroke="#0000ff" stroke-opacity="0.7" stroke-width="2" fill="none"/>
<path d="M204.52 432.93h8.34M205.39 431.73h8.34M206.25 430.62h8.34M207.11 429.56h8.34M207.98 428.55h8.34M208.84 427.59h8.34M209.71 426.67h8.34M210.57 425.8h8.34M211.43 424.96h8.34M212.3 424.16h8.34M213.16 423.38h8.34M214.03 422.64h8.34M214.89 421.92h8.34M215.75 421.23h8.34M216.62 420.55h8.34M217.48 419.89h8.34M218.35 419.25h8.34M219.21 418.62h8.34M220.07 418.01h8.34M220.94 417.42h8.34M221.8 416.85h8.34M222.67 416.29h8.34M223.53 415.75h8.34M224.39 415.22h8.34M225.26 414.7h8.34M226.12 414.2h8.34M226.99 413.71h8.34M227.85 413.23h8.34M228.71 412.77h8.34M229.58 412.31h8.34M230.44 411.87h8.34M231.31 411.44h8.34M232.17 411.03h8.34M233.03 410.64h8.34M233.9 410.27h8.34M234.76 409.92h8.34M235.63 409.59h8.34M236.49 409.26h8.34M237.35 408.94h8.34M238.22 408.63h8.34M239.08 408.31h8.34M239.95 407.99h8.34M240.81 407.66h8.34M241.67 407.32h8.34M242.54 406.97h8.34M243.4 406.6h8.34M244.27 406.2h8.34M245.13 405.78h8.34M245.99 405.33h8.34M246.86 404.85h8.34M247.72 404.34h8.34M248.59 403.79h8.34M249.45 403.22h8.34M250.31 402.63h8.34M251.18 402.01h8.34M252.04 401.37h8.34M252.91 400.71h8.34M253.77 400.03h8.34M254.63 399.31h8.34M255.5 398.55h8.34M256.36 397.73h8.34M257.23 396.85h8.34M258.09 395.91h8.34M258.95 394.91h8.34M259.82 393.83h8.34M260.68 392.66h8.34M261.55 391.4h8.34M332.73 461.28h8.34M333.16 460.73h8.34M333.59 460.18h8.34M334.02 459.63h8.34M334.45 459.09h8.34M334.88 458.56h8.34M335.31 458.02h8.34M335.74 457.49h8.34M336.17 456.96h8.34M336.6 456.43h8.34M337.03 455.9h8.34M337.46 455.37h8.34M337.89 454.84h8.34M338.32 454.3h8.34M338.75 453.76h8.34M339.18 453.07h8.34M339.61 452.6h8.34M340.04 452.13h8.34M340.47 451.64h8.34M340.9 451.14h8.34M341.33 450.62h8.34M341.76 450.1h8.34M342.19 449.57h8.34M342.62 449.02h8.34M343.05 448.47h8.34M343.48 447.9h8.34M343.91 447.33h8.34M344.34 446.75h8.34M344.77 446.17h8.34M345.2 445.57h8.34M345.63 444.97h8.34M346.07 444.36h8.34M346.5 443.74h8.34M346.93 443.12h8.34M347.36 442.5h8.34M347.79 441.86h8.34M348.22 441.23h8.34M348.65 440.59h8.34M349.08 439.95h8.34M349.51 439.3h8.34M349.94 438.65h8.34M350.37 438h8.34M350.8 437.35h8.34M351.23 436.69h8.34M351.66 436.04h8.34M352.09 435.38h8.34M352.52 434.72h8.34M352.95 434.07h8.34M353.38 433.41h8.34M353.81 432.76h8.34M354.24 432.11h8.34M354.24 544.2h8.34M354.67 431.46h8.34M354.67 542.93h8.34M355.1 430.81h8.34M355.1 541.67h8.34M355.53 430.16h8.34M355.53 540.43h8.34M355.96 429.52h8.34M355.96 539.21h8.34M356.39 428.88h8.34M356.39 537.99h8.34M356.82 428.25h8.34M356.82 536.78h8.34M357.25 427.62h8.34M357.25 535.58h8.34M357.68 427h8.34M357.68 534.38h8.34M358.11 426.38h8.34M358.11 533.19h8.34M358.54 425.76h8.34M358.54 532h8.34M358.97 425.16h8.34M358.97 530.83h8.34M359.4 424.56h8.34M359.4 529.66h8.34M359.83 423.97h8.34M359.83 528.49h8.34M360.26 423.38h8.34M360.26 527.34h8.34M360.69 422.8h8.34M360.69 526.19h8.34M361.12 422.24h8.34M361.12 525.06h8.34M361.55 421.67h8.34M361.55 523.93h8.34M361.98 421.12h8.34M361.98 522.81h8.34M362.41 420.57h8.34M362.41 521.7h8.34M362.84 420.03h8.34M362.84 520.6h8.34M363.27 419.5h8.34M363.27 519.51h8.34M363.7 418.98h8.34M363.7 518.44h8.34M364.13 418.46h8.34M364.13 517.37h8.34M364.56 417.95h8.34M364.56 516.31h8.34M364.99 417.44h8.34M364.99 515.27h8.34M365.42 416.94h8.34M365.42 514.23h8.34M365.85 416.45h8.34M365.85 513.19h8.34M366.28 415.97h8.34M366.28 512.14h8.34M366.71 415.49h8.34M366.71 511.1h8.34M367.14 415.02h8.34M367.14 510.05h8.34M367.57 414.55h8.34M367.57 509.01h8.34M368 414.1h8.34M368 507.96h8.34M368.43 413.64h8.34M368.43 506.92h8.34M368.86 413.2h8.34M368.86 505.89h8.34M369.29 412.76h8.34M369.29 504.86h8.34M369.72 412.32h8.34M369.72 503.83h8.34M370.15 411.89h8.34M370.15 502.81h8.34M370.58 411.47h8.34M370.58 501.8h8.34M371.01 411.05h8.34M371.01 500.8h8.34M371.44 410.64h8.34M371.44 499.81h8.34M371.87 410.23h8.34M371.87 498.83h8.34M372.31 409.83h8.34M372.31 497.86h8.34M372.74 409.44h8.34M372.74 496.9h8.34M373.17 409.05h8.34M373.17 495.96h8.34M373.6 408.66h8.34M373.6 495.03h8.34M374.03 408.28h8.34M374.03 494.12h8.34M374.46 407.91h8.34M374.46 493.23h8.34M374.89 407.54h8.34M374.89 492.35h8.34M375.32 407.17h8.34M375.32 491.49h8.34M375.75 406.81h8.34M375.75 490.65h8.34M376.18 406.45h8.34M376.18 489.83h8.34M376.61 406.1h8.34M376.61 489.04h8.34M377.04 405.75h8.34M377.04 488.26h8.34M377.47 405.41h8.34M377.47 487.51h8.34M377.9 405.07h8.34M377.9 486.78h8.34M378.33 404.74h8.34M378.33 486.08h8.34M378.76 404.41h8.34M378.76 485.42h8.34M379.19 404.09h8.34M379.19 484.78h8.34M379.62 403.77h8.34M379.62 484.18h8.34M380.05 403.46h8.34M380.05 483.6h8.34M380.48 403.15h8.34M380.48 483.05h8.34M380.91 402.84h8.34M380.91 482.51h8.34M381.34 402.54h8.34M381.34 481.97h8.34M381.77 402.25h8.34M381.77 481.45h8.34M382.2 401.96h8.34M382.2 480.92h8.34M382.63 401.67h8.34M382.63 480.38h8.34M383.06 401.39h8.34M383.06 479.83h8.34M383.49 401.11h8.34M383.49 479.26h8.34M383.92 400.84h8.34M383.92 478.67h8.34M384.35 400.57h8.34M384.35 478.05h8.34M384.78 400.31h8.34M384.78 477.42h8.34M385.21 400.05h8.34M385.21 476.77h8.34M385.64 399.8h8.34M385.64 476.11h8.34M386.07 399.55h8.34M386.07 475.44h8.34M386.5 399.3h8.34M386.5 474.77h8.34M386.93 399.06h8.34M386.93 474.09h8.34M387.36 398.83h8.34M387.36 473.41h8.34M387.79 398.6h8.34M387.79 472.74h8.34M388.22 398.37h8.34M388.22 472.08h8.34M388.65 398.15h8.34M388.65 471.43h8.34M389.08 397.93h8.34M389.08 470.8h8.34M389.51 397.72h8.34M389.51 470.19h8.34M389.94 397.51h8.34M389.94 469.59h8.34M390.37 397.3h8.34M390.37 469.03h8.34M390.8 397.1h8.34M390.8 468.49h8.34M391.23 396.91h8.34M391.23 467.99h8.34M391.66 396.72h8.34M391.66 467.52h8.34M392.09 396.53h8.34M392.09 467.08h8.34M392.52 396.35h8.34M392.52 466.65h8.34M392.95 396.17h8.34M392.95 466.22h8.34M393.38 396h8.34M393.38 465.81h8.34M393.81 395.83h8.34M393.81 465.41h8.34M394.24 395.67h8.34M394.24 465.02h8.34M394.67 395.51h8.34M394.67 464.64h8.34M395.1 395.36h8.34M395.1 464.27h8.34M395.53 395.21h8.34M395.53 463.9h8.34M395.96 395.06h8.34M395.96 463.54h8.34M396.39 394.92h8.34M396.39 463.2h8.34M396.82 394.78h8.34M396.82 462.86h8.34M397.25 394.65h8.34M397.25 462.53h8.34M397.68 394.52h8.34M397.68 462.2h8.34M398.11 394.39h8.34M398.11 461.88h8.34M398.54 394.27h8.34M398.54 461.57h8.34M398.98 394.15h8.34M398.98 461.27h8.34M399.41 394.03h8.34M399.41 460.97h8.34M399.84 393.92h8.34M399.84 460.68h8.34M400.27 393.81h8.34M400.27 460.4h8.34M400.7 393.7h8.34M400.7 460.12h8.34M401.13 393.59h8.34M401.13 459.85h8.34M401.56 393.49h8.34M401.56 459.58h8.34M401.99 393.39h8.34M401.99 459.31h8.34M402.42 393.3h8.34M402.42 459.05h8.34M402.85 393.2h8.34M402.85 458.79h8.34M403.28 393.11h8.34M403.28 458.54h8.34M403.71 393.02h8.34M403.71 458.28h8.34M404.14 392.93h8.34M404.14 458.03h8.34M404.57 392.85h8.34M404.57 457.79h8.34M405 392.76h8.34M405 457.55h8.34M405.43 392.68h8.34M405.43 457.31h8.34M405.86 392.6h8.34M405.86 457.08h8.34M406.29 392.52h8.34M406.29 456.85h8.34M406.72 392.44h8.34M406.72 456.63h8.34M407.15 392.36h8.34M407.15 456.41h8.34M407.58 392.28h8.34M407.58 456.2h8.34M408.01 392.21h8.34M408.01 455.99h8.34M408.44 392.13h8.34M408.44 455.79h8.34M408.87 392.06h8.34M408.87 455.6h8.34M409.3 391.99h8.34M409.3 455.41h8.34M409.73 391.91h8.34M409.73 455.23h8.34M410.16 391.84h8.34M410.16 455.06h8.34M410.59 391.77h8.34M410.59 454.89h8.34M411.02 391.69h8.34M411.02 454.73h8.34M411.45 391.62h8.34M411.45 454.58h8.34M411.88 391.55h8.34M411.88 454.43h8.34M412.31 391.47h8.34M412.31 454.3h8.34M412.74 391.4h8.34M412.74 454.16h8.34M413.17 391.32h8.34M413.17 454.03h8.34M413.6 391.25h8.34M413.6 453.91h8.34M414.03 391.17h8.34M414.03 453.79h8.34M414.46 391.1h8.34M414.46 453.67h8.34M414.89 391.02h8.34M414.89 453.55h8.34M415.32 390.95h8.34M415.32 453.44h8.34M415.75 390.87h8.34M415.75 453.34h8.34M416.18 390.79h8.34M416.18 453.23h8.34M416.61 390.72h8.34M416.61 453.13h8.34M417.04 390.64h8.34M417.04 453.03h8.34M417.47 390.56h8.34M417.47 452.93h8.34M417.9 390.49h8.34M417.9 452.83h8.34M418.33 390.41h8.34M418.33 452.73h8.34M418.76 390.33h8.34M418.76 452.64h8.34M419.19 390.25h8.34M419.19 452.54h8.34M419.62 390.18h8.34M419.62 452.45h8.34M420.05 390.1h8.34M420.05 452.36h8.34M420.48 390.02h8.34M420.48 452.26h8.34M420.91 389.94h8.34M420.91 452.17h8.34M421.34 389.87h8.34M421.34 452.07h8.34M421.77 389.79h8.34M421.77 451.98h8.34M422.2 389.71h8.34M422.2 451.88h8.34M422.63 389.63h8.34M422.63 451.79h8.34M423.06 389.56h8.34M423.06 451.69h8.34M423.49 389.48h8.34M423.49 451.59h8.34M423.92 389.4h8.34M423.92 451.5h8.34M424.35 389.32h8.34M424.35 451.4h8.34M424.78 389.25h8.34M424.78 451.3h8.34M425.22 389.17h8.34M425.22 451.21h8.34M425.65 389.09h8.34M425.65 451.11h8.34M426.08 389.02h8.34M426.08 451.02h8.34M426.51 388.94h8.34M426.51 450.93h8.34M426.94 388.87h8.34M426.94 450.84h8.34M427.37 388.79h8.34M427.37 450.75h8.34M427.8 388.71h8.34M427.8 450.66h8.34M428.23 388.64h8.34M428.23 450.57h8.34M428.66 388.56h8.34M428.66 450.49h8.34M429.09 388.49h8.34M429.09 450.41h8.34M429.52 388.42h8.34M429.52 450.34h8.34M429.95 388.34h8.34M429.95 450.26h8.34M430.38 388.27h8.34M430.38 450.19h8.34M430.81 388.2h8.34M430.81 450.12h8.34M431.24 388.12h8.34M431.24 450.06h8.34M431.67 388.05h8.34M431.67 450h8.34M432.1 387.98h8.34M432.1 449.94h8.34M432.53 387.91h8.34M432.53 449.88h8.34M432.96 387.84h8.34M432.96 449.83h8.34M433.39 387.77h8.34M433.39 449.77h8.34M433.82 387.7h8.34M433.82 449.71h8.34M434.25 387.63h8.34M434.25 449.65h8.34M434.68 387.56h8.34M434.68 449.59h8.34M435.11 387.49h8.34M435.11 449.53h8.34M435.54 387.42h8.34M435.54 449.47h8.34M435.97 387.36h8.34M435.97 449.42h8.34M436.4 387.29h8.34M436.4 449.37h8.34M436.83 387.22h8.34M436.83 449.32h8.34M437.26 387.16h8.34M437.26 449.27h8.34M437.69 387.09h8.34M437.69 449.22h8.34M438.12 387.03h8.34M438.12 449.18h8.34M438.55 386.97h8.34M438.55 449.14h8.34M438.98 386.91h8.34M438.98 449.11h8.34M439.41 386.84h8.34M439.41 449.08h8.34M439.84 386.78h8.34M439.84 449.05h8.34M440.27 386.72h8.34M440.27 449.03h8.34M440.7 386.66h8.34M440.7 449.02h8.34M441.13 386.61h8.34M441.13 449h8.34M441.56 386.55h8.34M441.56 449h8.34M441.99 386.49h8.34M441.99 449h8.34M442.42 386.44h8.34M442.42 449h8.34M442.85 386.38h8.34M442.85 449h8.34M443.28 386.33h8.34M443.28 449h8.34M443.71 386.27h8.34M443.71 449h8.34M444.14 386.22h8.34M444.14 449h8.34M444.57 386.17h8.34M444.57 449h8.34M445 386.12h8.34M445 449h8.34M445.43 386.07h8.34M445.43 449h8.34M445.86 386.02h8.34M445.86 449h8.34M446.29 385.98h8.34M446.29 449h8.34M446.72 385.93h8.34M446.72 449h8.34M447.15 385.89h8.34M447.15 449h8.34M447.58 385.84h8.34M447.58 449h8.34M448.01 385.8h8.34M448.01 449h8.34M448.44 385.76h8.34M448.44 449h8.34M448.87 385.72h8.34M448.87 449h8.34M449.3 385.68h8.34M449.3 449h8.34M449.73 385.64h8.34M449.73 449h8.34M450.16 385.6h8.34M450.16 449h8.34M450.59 385.57h8.34M450.59 449.01h8.34M451.02 385.53h8.34M451.02 449.02h8.34M451.46 385.5h8.34M451.46 449.03h8.34M451.89 385.47h8.34M451.89 449.05h8.34M452.32 385.44h8.34M452.32 449.07h8.34M452.75 385.41h8.34M452.75 449.1h8.34M453.18 385.38h8.34M453.18 449.13h8.34M453.61 385.35h8.34M453.61 449.17h8.34M454.04 385.33h8.34M454.04 449.21h8.34M454.47 385.3h8.34M454.47 449.25h8.34M454.9 385.28h8.34M454.9 449.3h8.34M455.33 385.26h8.34M455.33 449.34h8.34M455.76 385.24h8.34M455.76 449.4h8.34M456.19 385.22h8.34M456.19 449.45h8.34M456.62 385.2h8.34M456.62 449.51h8.34M457.05 385.2h8.34M457.05 449.56h8.34M457.48 385.22h8.34M457.48 449.62h8.34M457.91 385.24h8.34M457.91 449.69h8.34M458.34 385.26h8.34M458.34 449.75h8.34M458.77 385.28h8.34M458.77 449.81h8.34M459.2 385.31h8.34M459.2 449.88h8.34M459.63 385.33h8.34M459.63 449.95h8.34M460.06 385.36h8.34M460.06 450.01h8.34M460.49 385.39h8.34M460.49 450.09h8.34M460.92 385.42h8.34M460.92 450.17h8.34M461.35 385.45h8.34M461.35 450.27h8.34M461.78 385.49h8.34M461.78 450.37h8.34M462.21 385.52h8.34M462.21 450.49h8.34M462.64 385.56h8.34M462.64 450.61h8.34M463.07 385.6h8.34M463.07 450.74h8.34M463.5 385.64h8.34M463.5 450.88h8.34M463.93 385.69h8.34M463.93 451.03h8.34M464.36 385.73h8.34M464.36 451.18h8.34M464.79 385.78h8.34M464.79 451.34h8.34M465.22 385.82h8.34M465.22 451.5h8.34M465.65 385.87h8.34M465.65 451.67h8.34M466.08 385.93h8.34M466.08 451.84h8.34M466.51 385.98h8.34M466.51 452.02h8.34M466.94 386.03h8.34M466.94 452.2h8.34M467.37 386.09h8.34M467.37 452.38h8.34M467.8 386.15h8.34M467.8 452.56h8.34M468.23 386.21h8.34M468.23 452.75h8.34M468.66 386.27h8.34M468.66 452.93h8.34M469.09 386.33h8.34M469.09 453.12h8.34M469.52 386.4h8.34M469.52 453.3h8.34M469.95 386.47h8.34M469.95 453.49h8.34M470.38 386.53h8.34M470.38 453.67h8.34M470.81 386.6h8.34M470.81 453.87h8.34M471.24 386.68h8.34M471.24 454.07h8.34M471.67 386.75h8.34M471.67 454.27h8.34M472.1 386.83h8.34M472.1 454.48h8.34M472.53 386.9h8.34M472.53 454.7h8.34M472.96 386.98h8.34M472.96 454.92h8.34M473.39 387.06h8.34M473.39 455.15h8.34M473.82 387.15h8.34M473.82 455.38h8.34M474.25 387.23h8.34M474.25 455.61h8.34M474.68 387.31h8.34M474.68 455.85h8.34M475.11 387.4h8.34M475.11 456.09h8.34M475.54 387.49h8.34M475.54 456.34h8.34M475.97 387.58h8.34M475.97 456.58h8.34M476.4 387.68h8.34M476.4 456.84h8.34M476.83 387.77h8.34M476.83 457.09h8.34M477.26 387.87h8.34M477.26 457.35h8.34M477.7 387.96h8.34M477.7 457.6h8.34M478.13 388.06h8.34M478.13 457.86h8.34M478.56 388.17h8.34M478.56 458.13h8.34M478.99 388.27h8.34M478.99 458.39h8.34M479.42 388.37h8.34M479.42 458.65h8.34M479.85 388.48h8.34M479.85 458.92h8.34M480.28 388.59h8.34M480.28 459.18h8.34M480.71 388.7h8.34M480.71 459.45h8.34M481.14 388.81h8.34M481.14 459.72h8.34M481.57 388.93h8.34M481.57 460h8.34M482 389.04h8.34M482 460.28h8.34M482.43 389.16h8.34M482.43 460.56h8.34M482.86 389.28h8.34M482.86 460.84h8.34M483.29 389.4h8.34M483.29 461.13h8.34M483.72 389.52h8.34M483.72 461.42h8.34M484.15 389.65h8.34M484.15 461.71h8.34M484.58 389.77h8.34M484.58 462.01h8.34M485.01 389.9h8.34M485.01 462.31h8.34M485.44 390.03h8.34M485.44 462.61h8.34M485.87 390.16h8.34M485.87 462.91h8.34M486.3 390.29h8.34M486.3 463.22h8.34M486.73 390.43h8.34M486.73 463.53h8.34M487.16 390.56h8.34M487.16 463.85h8.34M487.59 390.7h8.34M487.59 464.17h8.34M488.02 390.84h8.34M488.02 464.49h8.34M488.45 390.99h8.34M488.45 464.82h8.34M488.88 391.13h8.34M488.88 465.14h8.34M489.31 391.28h8.34M489.31 465.48h8.34M489.74 391.42h8.34M489.74 465.81h8.34M490.17 391.57h8.34M490.17 466.15h8.34M490.6 391.72h8.34M490.6 466.49h8.34M491.03 391.88h8.34M491.03 466.85h8.34M491.46 392.03h8.34M491.46 467.2h8.34M491.89 392.19h8.34M491.89 467.56h8.34M492.32 392.34h8.34M492.32 467.93h8.34M492.75 392.5h8.34M492.75 468.3h8.34M493.18 392.67h8.34M493.18 468.68h8.34M493.61 392.83h8.34M493.61 469.06h8.34M494.04 392.99h8.34M494.04 469.45h8.34M494.47 393.16h8.34M494.47 469.84h8.34M494.9 393.33h8.34M494.9 470.23h8.34M495.33 393.5h8.34M495.33 470.62h8.34M495.76 393.67h8.34M495.76 471.02h8.34M496.19 393.84h8.34M496.19 471.42h8.34M496.62 394.01h8.34M496.62 471.82h8.34M497.05 394.19h8.34M497.05 472.23h8.34M497.48 394.37h8.34M497.48 472.63h8.34M497.91 394.54h8.34M497.91 473.04h8.34M498.34 394.72h8.34M498.34 473.45h8.34M498.77 394.9h8.34M498.77 473.86h8.34M499.2 395.08h8.34M499.2 474.26h8.34M499.63 395.26h8.34M499.63 474.67h8.34M500.06 395.45h8.34M500.06 475.08h8.34M500.49 395.63h8.34M500.49 475.49h8.34M500.92 395.82h8.34M500.92 475.91h8.34M501.35 396h8.34M501.35 476.33h8.34M501.78 396.19h8.34M501.78 476.75h8.34M502.21 396.38h8.34M502.21 477.18h8.34M502.64 396.56h8.34M502.64 477.62h8.34M503.07 396.75h8.34M503.07 478.05h8.34M503.5 396.94h8.34M503.5 478.49h8.34M503.94 397.13h8.34M503.94 478.93h8.34M504.37 397.32h8.34M504.37 479.37h8.34M504.8 397.52h8.34M504.8 479.81h8.34M505.23 397.71h8.34M505.23 480.25h8.34M505.66 397.9h8.34M505.66 480.69h8.34M506.09 398.09h8.34M506.09 481.13h8.34M506.52 398.29h8.34M506.52 481.57h8.34M506.95 398.48h8.34M506.95 482.01h8.34M507.38 398.68h8.34M507.38 482.44h8.34M507.81 398.87h8.34M507.81 482.88h8.34M508.24 399.06h8.34M508.24 483.31h8.34M508.67 399.26h8.34M508.67 483.73h8.34M509.1 399.45h8.34M509.1 484.15h8.34M509.53 399.65h8.34M509.53 484.57h8.34M509.96 399.85h8.34M509.96 484.98h8.34M510.39 400.04h8.34M510.39 485.38h8.34M510.82 400.24h8.34M510.82 485.79h8.34M511.25 400.43h8.34M511.25 486.19h8.34M511.68 400.63h8.34M511.68 486.58h8.34M512.11 400.82h8.34M512.11 486.98h8.34M512.54 401.02h8.34M512.54 487.37h8.34M512.97 401.21h8.34M512.97 487.76h8.34M513.4 401.41h8.34M513.4 488.15h8.34M513.83 401.6h8.34M513.83 488.53h8.34M514.26 401.79h8.34M514.26 488.92h8.34M514.69 401.99h8.34M514.69 489.3h8.34M515.12 402.18h8.34M515.12 489.68h8.34M515.55 402.37h8.34M515.55 490.06h8.34M515.98 402.56h8.34M515.98 490.45h8.34M516.41 402.76h8.34M516.41 490.83h8.34M516.84 402.95h8.34M516.84 491.21h8.34M517.27 403.14h8.34M517.27 491.59h8.34M517.7 403.33h8.34M517.7 491.97h8.34M518.13 403.52h8.34M518.13 492.35h8.34M518.56 403.7h8.34M518.56 492.73h8.34M518.99 403.89h8.34M518.99 493.11h8.34M519.42 404.08h8.34M519.42 493.5h8.34M519.85 404.26h8.34M519.85 493.88h8.34M520.28 404.45h8.34M520.28 494.27h8.34M520.71 404.63h8.34M520.71 494.66h8.34M521.14 404.82h8.34M521.14 495.05h8.34M521.57 405h8.34M521.57 495.43h8.34M522 405.18h8.34M522 495.82h8.34M522.43 405.36h8.34M522.43 496.21h8.34M522.86 405.54h8.34M522.86 496.59h8.34M523.29 405.71h8.34M523.29 496.98h8.34M523.72 405.89h8.34M523.72 497.37h8.34M524.15 406.06h8.34M524.15 497.76h8.34M524.58 406.24h8.34M524.58 498.14h8.34M525.01 406.41h8.34M525.01 498.53h8.34M525.44 406.58h8.34M525.44 498.92h8.34M525.87 406.75h8.34M525.87 499.3h8.34M526.3 406.92h8.34M526.3 499.69h8.34M526.73 407.08h8.34M526.73 500.08h8.34M527.16 407.25h8.34M527.16 500.47h8.34M527.59 407.41h8.34M527.59 500.85h8.34M528.02 407.57h8.34M528.02 501.24h8.34M528.45 407.73h8.34M528.45 501.63h8.34M528.88 407.89h8.34M528.88 502.01h8.34M529.31 408.05h8.34M529.31 502.4h8.34M529.74 408.2h8.34M529.74 502.79h8.34M530.17 408.35h8.34M530.17 503.18h8.34M530.61 408.51h8.34M530.61 503.56h8.34M531.04 408.65h8.34M531.04 503.95h8.34M531.47 408.8h8.34M531.47 504.34h8.34M531.9 408.95h8.34M531.9 504.73h8.34M532.33 409.09h8.34M532.33 505.12h8.34M532.76 409.23h8.34M532.76 505.51h8.34M533.19 409.37h8.34M533.19 505.9h8.34M533.62 409.5h8.34M533.62 506.29h8.34M534.05 409.64h8.34M534.05 506.69h8.34M534.48 409.77h8.34M534.48 507.08h8.34M534.91 409.9h8.34M534.91 507.47h8.34M535.34 410.03h8.34M535.34 507.86h8.34M535.77 410.16h8.34M535.77 508.24h8.34M536.2 410.28h8.34M536.2 508.63h8.34M536.63 410.4h8.34M536.63 509.02h8.34M537.06 410.52h8.34M537.06 509.41h8.34M537.49 410.64h8.34M537.49 509.79h8.34M537.92 410.76h8.34M537.92 510.18h8.34M538.35 410.87h8.34M538.35 510.56h8.34M538.78 410.98h8.34M538.78 510.94h8.34M539.21 411.09h8.34M539.21 511.32h8.34M539.64 411.2h8.34M539.64 511.7h8.34M540.07 411.31h8.34M540.07 512.08h8.34M540.5 411.41h8.34M540.5 512.45h8.34M540.93 411.51h8.34M540.93 512.83h8.34M541.36 411.61h8.34M541.36 513.2h8.34M541.79 411.71h8.34M541.79 513.57h8.34M542.22 411.81h8.34M542.22 513.94h8.34M542.65 411.9h8.34M542.65 514.3h8.34M543.08 411.99h8.34M543.08 514.67h8.34M543.51 412.08h8.34M543.51 515.04h8.34M543.94 412.17h8.34M543.94 515.4h8.34M544.37 412.25h8.34M544.37 515.77h8.34M544.8 412.34h8.34M544.8 516.13h8.34M545.23 412.42h8.34M545.23 516.49h8.34M545.66 412.5h8.34M545.66 516.85h8.34M546.09 412.58h8.34M546.09 517.22h8.34M546.52 412.65h8.34M546.52 517.58h8.34M546.95 412.72h8.34M546.95 517.94h8.34M547.38 412.8h8.34M547.38 518.3h8.34M547.81 412.86h8.34M547.81 518.67h8.34M548.24 412.93h8.34M548.24 519.03h8.34M548.67 413h8.34M548.67 519.39h8.34M549.1 413.06h8.34M549.1 519.76h8.34M549.53 413.12h8.34M549.53 520.12h8.34M549.96 413.18h8.34M549.96 520.49h8.34M550.39 413.24h8.34M550.39 520.85h8.34M550.82 413.29h8.34M550.82 521.22h8.34M551.25 413.34h8.34M551.25 521.58h8.34M551.68 413.39h8.34M551.68 521.95h8.34M552.11 413.44h8.34M552.11 522.31h8.34M552.54 413.49h8.34M552.54 522.68h8.34M552.97 413.53h8.34M552.97 523.05h8.34M553.4 413.58h8.34M553.4 523.41h8.34M553.83 413.62h8.34M553.83 523.78h8.34M554.26 413.66h8.34M554.26 524.14h8.34M554.69 413.69h8.34M554.69 524.51h8.34M555.12 413.73h8.34M555.12 524.88h8.34M555.55 413.76h8.34M555.55 525.24h8.34M555.98 413.79h8.34M555.98 525.61h8.34M556.41 413.82h8.34M556.41 525.97h8.34M556.85 413.84h8.34M556.85 526.34h8.34M557.28 413.87h8.34M557.28 526.7h8.34M557.71 413.89h8.34M557.71 527.07h8.34M558.14 413.91h8.34M558.14 527.43h8.34M558.57 413.93h8.34M558.57 527.8h8.34M559 413.94h8.34M559 528.16h8.34M559.43 413.96h8.34M559.43 528.53h8.34M559.86 413.97h8.34M559.86 528.9h8.34M560.29 413.98h8.34M560.29 529.26h8.34M560.72 413.99h8.34M560.72 529.62h8.34M561.15 413.99h8.34M561.15 529.99h8.34M561.58 414h8.34M561.58 530.35h8.34M562.01 414h8.34M562.01 530.72h8.34M562.44 414h8.34M562.44 531.08h8.34M562.87 414h8.34M562.87 531.45h8.34M563.3 414h8.34M563.3 531.81h8.34M563.73 414h8.34M563.73 532.18h8.34M564.16 414h8.34M564.16 532.54h8.34M564.59 414h8.34M564.59 532.91h8.34M565.02 414h8.34M565.02 533.27h8.34M565.45 414h8.34M565.45 533.64h8.34M565.88 414h8.34M565.88 534h8.34M566.31 414h8.34M566.31 534.37h8.34M566.74 414h8.34M566.74 534.73h8.34M567.17 414h8.34M567.17 535.1h8.34M567.6 414h8.34M567.6 535.46h8.34M568.03 414h8.34M568.03 535.83h8.34M568.46 414h8.34M568.46 536.19h8.34M568.89 414h8.34M568.89 536.55h8.34M569.32 414h8.34M569.32 536.92h8.34M569.75 414h8.34M569.75 537.28h8.34M570.18 414h8.34M570.18 537.64h8.34M570.61 414h8.34M570.61 538.01h8.34M571.04 414h8.34M571.04 538.37h8.34M571.47 413.99h8.34M571.47 538.73h8.34M571.9 413.99h8.34M571.9 539.09h8.34M572.33 413.98h8.34M572.33 539.45h8.34M572.76 413.97h8.34M572.76 539.82h8.34M573.19 413.96h8.34M573.19 540.18h8.34M573.62 413.94h8.34M573.62 540.54h8.34M574.05 413.93h8.34M574.05 540.9h8.34M574.48 413.91h8.34M574.48 541.26h8.34M574.91 413.89h8.34M574.91 541.62h8.34M575.34 413.87h8.34M575.34 541.98h8.34M575.77 413.84h8.34M575.77 542.34h8.34M576.2 413.82h8.34M576.2 542.7h8.34M576.63 413.79h8.34M576.63 543.06h8.34M577.06 413.76h8.34M577.06 543.42h8.34M577.49 413.72h8.34M577.49 543.78h8.34M577.92 413.69h8.34M577.92 544.14h8.34M578.35 413.65h8.34M578.35 544.5h8.34M578.78 413.61h8.34M578.78 544.85h8.34M579.21 413.57h8.34M579.64 413.53h8.34M580.07 413.49h8.34M580.5 413.44h8.34M580.93 413.39h8.34M581.36 413.34h8.34M581.79 413.29h8.34M582.22 413.23h8.34M582.65 413.17h8.34M583.09 413.11h8.34M583.52 413.05h8.34M583.95 412.99h8.34M584.38 412.92h8.34M584.81 412.86h8.34M585.24 412.79h8.34M585.67 412.71h8.34M586.1 412.64h8.34M586.53 412.56h8.34M586.96 412.48h8.34M587.39 412.4h8.34M587.82 412.32h8.34M588.25 412.24h8.34M588.68 412.15h8.34M589.11 412.06h8.34M589.54 411.97h8.34M589.97 411.87h8.34M590.4 411.78h8.34M590.83 411.68h8.34M591.26 411.58h8.34M591.69 411.48h8.34M592.12 411.37h8.34M592.55 411.26h8.34M592.98 411.16h8.34M593.41 411.04h8.34M593.84 410.93h8.34M594.27 410.81h8.34M594.7 410.69h8.34M595.13 410.57h8.34M595.56 410.45h8.34M595.99 410.32h8.34M596.42 410.2h8.34M596.85 410.07h8.34M597.28 409.93h8.34M597.71 409.8h8.34M598.14 409.66h8.34M598.57 409.52h8.34M599 409.38h8.34M599.43 409.24h8.34M599.86 409.09h8.34M600.29 408.94h8.34M600.72 408.79h8.34M601.15 408.64h8.34M601.58 408.48h8.34M602.01 408.32h8.34M602.44 408.16h8.34M602.87 408h8.34M603.3 407.83h8.34M603.73 407.66h8.34M604.16 407.49h8.34M604.59 407.32h8.34M605.02 407.14h8.34M605.45 406.96h8.34M605.88 406.78h8.34M606.31 406.6h8.34M606.74 406.41h8.34M607.17 406.22h8.34M607.6 406.03h8.34M608.03 405.84h8.34M608.46 405.64h8.34M608.89 405.45h8.34M609.33 405.25h8.34M609.76 405.04h8.34M610.19 404.84h8.34M610.62 404.63h8.34M611.05 404.42h8.34M611.48 404.2h8.34M611.91 403.99h8.34M612.34 403.77h8.34M612.77 403.55h8.34M613.2 403.32h8.34M613.63 403.09h8.34M614.06 402.87h8.34M614.49 402.63h8.34M614.92 402.4h8.34M615.35 402.16h8.34M615.78 401.92h8.34M616.21 401.68h8.34M616.64 401.43h8.34M617.07 401.19h8.34M617.5 400.93h8.34M617.93 400.68h8.34M618.36 400.43h8.34M618.79 400.17h8.34M619.22 399.9h8.34M619.65 399.64h8.34M620.08 399.37h8.34M620.51 399.1h8.34M620.94 398.83h8.34M621.37 398.56h8.34M621.8 398.28h8.34M622.23 397.99h8.34M622.66 397.71h8.34M623.09 397.42h8.34M623.52 397.13h8.34M623.95 396.83h8.34M624.38 396.53h8.34M624.81 396.22h8.34M625.24 395.91h8.34M625.67 395.6h8.34M626.1 395.28h8.34M626.53 394.95h8.34M626.96 394.62h8.34M627.39 394.29h8.34M627.82 393.95h8.34M628.25 393.6h8.34M628.68 393.25h8.34M629.11 392.89h8.34M629.54 392.53h8.34M629.97 392.16h8.34M630.4 391.78h8.34M630.83 391.4h8.34M631.26 391.01h8.34M631.69 390.62h8.34M632.12 390.21h8.34M632.55 389.8h8.34M632.98 389.39h8.34M633.41 388.96h8.34M633.84 388.53h8.34M634.27 388.09h8.34M634.7 387.64h8.34M635.13 387.19h8.34M635.56 386.72h8.34M636 386.25h8.34M636.43 385.77h8.34M636.86 385.28h8.34M637.29 384.78h8.34M637.72 384.28h8.34M638.15 383.76h8.34M638.58 383.24h8.34M639.01 382.7h8.34M639.44 382.16h8.34M639.87 381.6h8.34M640.3 381.04h8.34M640.73 380.47h8.34M641.16 379.88h8.34M641.59 379.29h8.34M642.02 378.69h8.34M642.45 378.08h8.34M642.88 377.46h8.34M643.3 376.83h8.34M643.73 376.2h8.34M644.15 375.56h8.34M644.57 374.92h8.34M644.99 374.27h8.34M645.41 373.62h8.34M645.82 372.96h8.34M646.24 372.3h8.34M646.65 371.64h8.34M647.05 370.97h8.34M647.46 370.3h8.34M647.86 369.62h8.34M648.27 368.94h8.34M648.67 368.26h8.34M649.06 367.57h8.34M649.46 366.88h8.34M649.85 366.19h8.34M650.24 365.49h8.34M650.63 364.8h8.34M651.02 364.1h8.34M651.4 363.4h8.34M651.79 362.7h8.34M652.17 361.99h8.34M652.54 361.29h8.34M652.92 360.58h8.34M653.3 359.88h8.34M653.67 359.17h8.34M654.04 358.46h8.34M654.41 357.75h8.34M654.77 357.04h8.34M655.13 356.33h8.34M655.5 355.62h8.34M655.86 354.91h8.34M656.21 354.2h8.34M656.57 353.49h8.34M656.92 352.78h8.34M657.27 352.07h8.34M657.62 351.36h8.34M657.97 350.65h8.34M658.31 349.95h8.34M658.65 349.24h8.34M658.99 348.53h8.34M659.33 347.83h8.34M659.67 347.13h8.34M660 346.43h8.34M660.33 345.73h8.34M660.66 345.03h8.34M660.99 344.33h8.34M661.32 343.64h8.34M661.64 342.95h8.34M661.96 341.77h8.34M662.28 340.61h8.34M662.6 339.72h8.34M662.91 338.84h8.34M663.22 337.95h8.34M663.54 337.06h8.34M663.84 336.17h8.34M664.15 335.29h8.34M664.45 334.42h8.34M664.76 333.55h8.34M665.06 332.68h8.34M665.35 331.81h8.34M665.65 330.94h8.34M665.94 330.06h8.34M666.23 329.18h8.34M666.52 328.29h8.34M666.81 327.4h8.34M667.1 326.49h8.34M667.38 325.58h8.34M667.66 324.65h8.34M667.94 323.71h8.34M668.22 322.75h8.34M668.49 321.79h8.34M668.76 320.8h8.34M669.03 319.8h8.34M669.3 318.77h8.34M669.57 317.7h8.34M669.83 316.6h8.34M670.09 315.48h8.34M670.35 314.34h8.34M670.61 313.18h8.34M670.87 312.01h8.34M671.12 310.84h8.34M671.37 309.66h8.34M671.62 308.48h8.34M671.87 307.3h8.34M672.11 306.13h8.34M672.35 304.97h8.34M672.59 303.83h8.34M672.83 302.71h8.34M673.07 301.59h8.34M673.3 300.48h8.34M673.54 299.35h8.34M673.77 298.22h8.34M673.99 297.06h8.34M674.22 295.88h8.34M674.44 294.67h8.34M674.67 293.42h8.34M674.88 292.14h8.34M675.1 290.81h8.34M675.32 289.43h8.34M675.53 287.96h8.34M675.74 286.39h8.34M675.95 284.76h8.34M676.16 283.07h8.34M676.36 281.35h8.34M676.56 279.62h8.34M676.76 277.88h8.34M676.96 276.16h8.34M677.16 274.46h8.34M677.35 272.79h8.34M677.54 271.13h8.34M677.73 269.46h8.34M677.92 267.79h8.34M678.11 266.1h8.34M678.29 264.38h8.34M678.47 262.62h8.34M678.65 260.81h8.34M678.83 258.95h8.34M679 257.04h8.34M679.18 255.05h8.34M679.35 252.95h8.34M679.51 253.5h8.34M679.68 251.9h8.34M679.85 250.25h8.34M680.01 248.5h8.34M680.17 246.9h8.34M680.33 245h8.34M680.48 243.1h8.34M680.63 241.25h8.34M680.79 239.4h8.34M680.94 237.5h8.34M681.08 235.25h8.34M681.23 233.1h8.34M681.37 230.6h8.34M681.51 228.1h8.34M681.65 225.25h8.34M681.79 222.5h8.34M681.92 220h8.34M682.06 216.5h8.34M682.19 213.5h8.34M682.31 210h8.34M682.44 206.25h8.34M682.56 203.1h8.34M682.69 199.4h8.34M682.81 194.4h8.34M682.92 190.4h8.34M683.04 185.4h8.34M683.15 180.6h8.34M683.26 175.4h8.34M683.37 169.4h8.34M683.48 162.5h8.34M683.58 156.5h8.34M683.69 148.4h8.34M683.79 140.4h8.34M683.89 131.5h8.34M683.98 121.5h8.34M684.08 110.5h8.34M684.17 97.5h8.34M684.26 83.5h8.34M684.35 67.3h8.34" stroke="#0000ff" stroke-width="0.95" fill="none"/>
</g>
<rect x="100.5" y="60.5" width="620" height="480" fill="none" stroke="#000" stroke-width="1.39"/>
<path d="M100.5 540v-5.56M100.5 60v5.56M203.5 540v-5.56M203.5 60v5.56M307.5 540v-5.56M307.5 60v5.56M410.5 540v-5.56M410.5 60v5.56M513.5 540v-5.56M513.5 60v5.56M617.5 540v-5.56M617.5 60v5.56M720.5 540v-5.56M720.5 60v5.56M100 500.5h5.56M720 500.5h-5.56M100 433.5h5.56M720 433.5h-5.56M100 367.5h5.56M720 367.5h-5.56M100 300.5h5.56M720 300.5h-5.56M100 233.5h5.56M720 233.5h-5.56M100 167.5h5.56M720 167.5h-5.56M100 100.5h5.56M720 100.5h-5.56" stroke="#000" stroke-width="0.7" fill="none"/>
<g font-size="16.67"><text x="100.3" y="557.1" text-anchor="middle">6</text><text x="203.63" y="557.1" text-anchor="middle">8</text><text x="306.97" y="557.1" text-anchor="middle">10</text><text x="410.3" y="557.1" text-anchor="middle">12</text><text x="513.63" y="557.1" text-anchor="middle">14</text><text x="616.97" y="557.1" text-anchor="middle">16</text><text x="720.3" y="557.1" text-anchor="middle">18</text><text x="95.6" y="506.3" text-anchor="end">−150</text><text x="95.6" y="439.63" text-anchor="end">−100</text><text x="95.6" y="372.97" text-anchor="end">−50</text><text x="95.6" y="306.3" text-anchor="end">0</text><text x="95.6" y="239.63" text-anchor="end">50</text><text x="95.6" y="172.97" text-anchor="end">100</text><text x="95.6" y="106.3" text-anchor="end">150</text>
<text x="411.5" y="576" text-anchor="middle" letter-spacing="0.1">Time (hrs)</text>
<text transform="translate(40.2,300) rotate(-90)" text-anchor="middle" letter-spacing="0.1">Closure phase (deg)</text>
</g>
<text x="409.6" y="53.2" text-anchor="middle" font-size="19.44" letter-spacing="0.3">ALMA-LMT-SPT</text>
</svg>
</body></html>
